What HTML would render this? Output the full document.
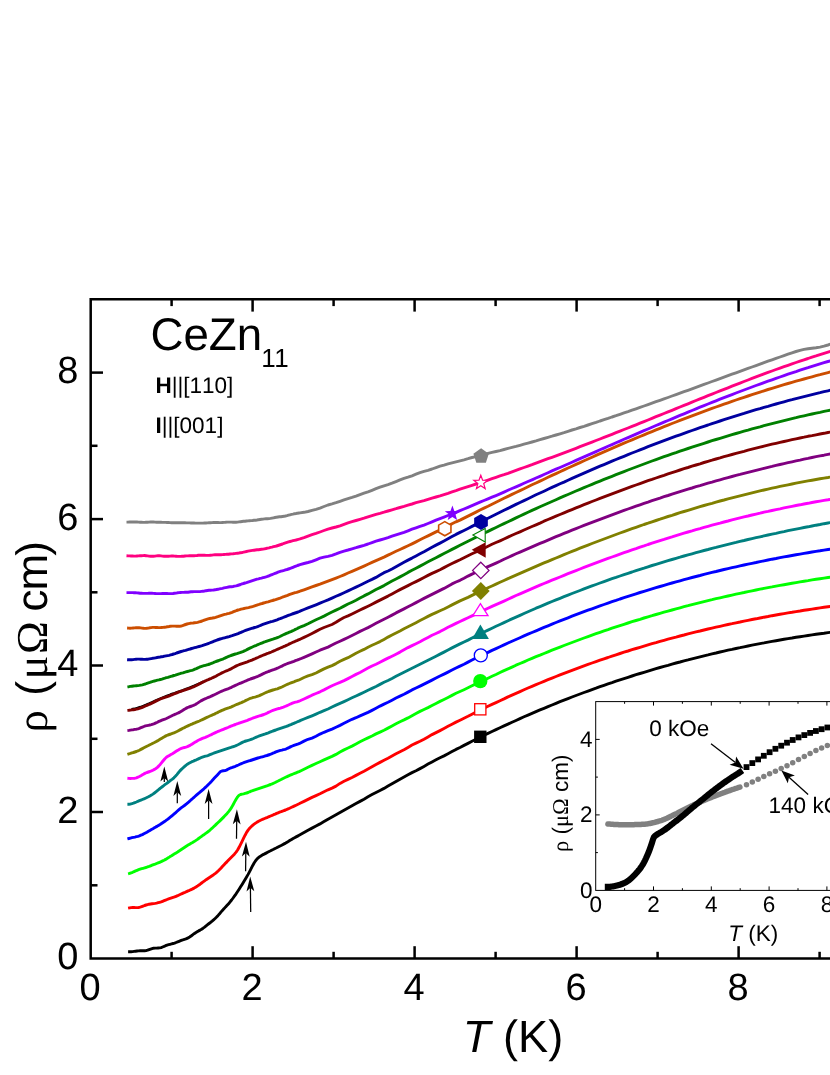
<!DOCTYPE html>
<html lang="en">
<head>
<meta charset="utf-8">
<title>CeZn11 resistivity</title>
<style>
html, body { margin: 0; padding: 0; background: #ffffff; }
body { width: 830px; height: 1075px; overflow: hidden; position: relative;
  font-family: "Liberation Sans", sans-serif; }
svg text { white-space: pre; font-kerning: none; font-feature-settings: "kern" 0, "liga" 0; text-rendering: geometricPrecision; }
</style>
</head>
<body>
<svg width="830" height="1075" viewBox="0 0 830 1075" style="position:absolute;left:0;top:0;display:block;will-change:transform">
<rect x="0" y="0" width="830" height="1075" fill="#ffffff"/>
<g fill="none" stroke-linejoin="round" stroke-linecap="butt">
<path d="M131.5 709.4 L134.5 708.9 L137.5 708.1 L140.5 707.1 L143.5 706.0 L146.5 704.8 L149.5 703.5 L152.5 702.1 L155.5 700.7 L158.5 699.4 L161.5 698.1 L164.5 696.9 L167.5 695.7 L170.5 694.6 L173.5 693.6 L176.5 692.5 L179.5 691.4 L182.5 690.4 L185.5 689.3 L188.5 688.1 L191.5 686.9 L194.5 685.7 L197.5 684.4 L200.5 683.1 L203.5 681.7" stroke="#000" stroke-width="2.6"/>
<path d="M128.1 951.8 L129.6 951.8 L131.1 951.7 L132.6 951.6 L134.1 951.4 L135.6 951.2 L137.1 951.0 L138.6 950.9 L140.1 950.8 L141.6 950.8 L143.1 950.8 L144.6 950.8 L146.1 950.6 L147.6 950.2 L149.1 949.6 L150.6 949.1 L152.1 948.6 L153.6 948.2 L155.1 948.1 L156.6 948.1 L158.1 948.0 L159.6 947.9 L161.1 947.6 L162.6 947.0 L164.1 946.4 L165.6 945.7 L167.1 945.1 L168.6 944.7 L170.1 944.3 L171.6 943.9 L173.1 943.5 L174.6 943.1 L176.1 942.5 L177.6 941.9 L179.1 941.3 L180.6 940.7 L182.1 940.1 L183.6 939.7 L185.1 939.2 L186.6 938.6 L188.1 937.9 L189.6 937.0 L191.1 936.0 L192.6 934.8 L194.1 933.7 L195.6 932.7 L197.1 931.8 L198.6 930.9 L200.1 930.1 L201.6 929.2 L203.1 928.2 L204.6 927.1 L206.1 925.9 L207.6 924.7 L209.1 923.5 L210.6 922.3 L212.1 921.1 L213.6 919.8 L215.1 918.5 L216.6 917.0 L218.1 915.4 L219.6 913.7 L221.1 911.9 L222.6 910.2 L224.1 908.6 L225.6 906.9 L227.1 905.3 L228.6 903.7 L230.1 901.9 L231.6 900.0 L233.1 898.0 L234.6 895.9 L236.1 893.8 L237.6 891.5 L239.1 889.2 L240.6 886.8 L242.1 884.4 L243.6 881.9 L245.1 879.5 L246.6 877.0 L248.1 874.4 L249.6 871.6 L251.1 868.7 L252.6 865.7 L254.1 863.0 L255.6 860.7 L257.1 858.9 L258.6 857.5 L260.1 856.4 L261.6 855.5 L263.1 854.6 L264.6 853.9 L266.1 853.1 L267.6 852.3 L269.1 851.5 L270.6 850.8 L272.1 850.0 L273.6 849.3 L275.1 848.5 L276.6 847.8 L278.1 847.0 L279.6 846.2 L281.1 845.5 L282.6 844.7 L284.1 843.9 L285.6 843.1 L287.1 842.2 L288.6 841.3 L290.1 840.3 L291.6 839.4 L293.1 838.5 L294.6 837.7 L296.1 836.9 L297.6 836.1 L299.1 835.3 L300.0 834.8 L304.0 832.5 L308.0 830.2 L312.0 828.1 L316.0 826.0 L320.0 823.9 L324.0 821.6 L328.0 819.2 L332.0 817.0 L336.0 814.8 L340.0 812.5 L344.0 810.2 L348.0 808.0 L352.0 805.7 L356.0 803.5 L360.0 801.4 L364.0 799.2 L368.0 796.8 L372.0 794.6 L376.0 792.5 L380.0 790.5 L384.0 788.4 L388.0 786.1 L392.0 783.8 L396.0 781.5 L400.0 779.2 L404.0 777.0 L408.0 774.7 L412.0 772.6 L416.0 770.7 L420.0 768.6 L424.0 766.4 L428.0 764.1 L432.0 761.9 L436.0 759.8 L440.0 757.8 L444.0 755.9 L448.0 753.8 L452.0 751.6 L456.0 749.4 L460.0 747.5 L464.0 745.4 L468.0 743.4 L472.0 741.3 L476.0 739.3 L480.0 737.3 L484.0 735.3 L488.0 733.4 L492.0 731.5 L496.0 729.6 L500.0 727.8 L504.0 725.9 L508.0 724.1 L512.0 722.3 L516.0 720.5 L520.0 718.6 L524.0 716.8 L528.0 715.1 L532.0 713.4 L536.0 711.6 L540.0 709.9 L544.0 708.3 L548.0 706.6 L552.0 705.0 L556.0 703.3 L560.0 701.7 L564.0 700.2 L568.0 698.6 L572.0 697.0 L576.0 695.5 L580.0 694.0 L584.0 692.5 L588.0 691.1 L592.0 689.6 L596.0 688.2 L600.0 686.7 L604.0 685.3 L608.0 683.9 L612.0 682.6 L616.0 681.2 L620.0 679.9 L624.0 678.6 L628.0 677.3 L632.0 676.0 L636.0 674.7 L640.0 673.5 L644.0 672.3 L648.0 671.1 L652.0 669.9 L656.0 668.7 L660.0 667.5 L664.0 666.4 L668.0 665.3 L672.0 664.1 L676.0 663.0 L680.0 662.0 L684.0 660.9 L688.0 659.9 L692.0 658.8 L696.0 657.8 L700.0 656.8 L704.0 655.8 L708.0 654.9 L712.0 653.9 L716.0 653.0 L720.0 652.0 L724.0 651.1 L728.0 650.2 L732.0 649.4 L736.0 648.5 L740.0 647.7 L744.0 646.8 L748.0 646.0 L752.0 645.2 L756.0 644.4 L760.0 643.6 L764.0 642.9 L768.0 642.1 L772.0 641.4 L776.0 640.7 L780.0 640.0 L784.0 639.3 L788.0 638.6 L792.0 638.0 L796.0 637.3 L800.0 636.7 L804.0 636.1 L808.0 635.5 L812.0 634.9 L816.0 634.3 L820.0 633.7 L824.0 633.2 L828.0 632.6 L832.0 632.1 L836.0 631.6 L840.0 631.1" stroke="#000000" stroke-width="2.9"/>
<path d="M128.1 908.2 L129.6 907.9 L131.1 907.6 L132.6 907.5 L134.1 907.5 L135.6 907.6 L137.1 907.6 L138.6 907.5 L140.1 907.2 L141.6 906.7 L143.1 906.1 L144.6 905.5 L146.1 905.0 L147.6 904.6 L149.1 904.2 L150.6 904.0 L152.1 903.8 L153.6 903.6 L155.1 903.4 L156.6 903.1 L158.1 902.7 L159.6 902.3 L161.1 901.9 L162.6 901.3 L164.1 900.7 L165.6 900.1 L167.1 899.5 L168.6 898.9 L170.1 898.4 L171.6 897.9 L173.1 897.4 L174.6 896.9 L176.1 896.3 L177.6 895.7 L179.1 895.0 L180.6 894.3 L182.1 893.6 L183.6 892.9 L185.1 892.3 L186.6 891.6 L188.1 890.9 L189.6 890.3 L191.1 889.6 L192.6 888.9 L194.1 888.1 L195.6 887.2 L197.1 886.3 L198.6 885.2 L200.1 884.2 L201.6 883.0 L203.1 881.9 L204.6 880.8 L206.1 879.7 L207.6 878.7 L209.1 877.7 L210.6 876.7 L212.1 875.7 L213.6 874.7 L215.1 873.6 L216.6 872.4 L218.1 871.0 L219.6 869.5 L221.1 868.0 L222.6 866.3 L224.1 864.7 L225.6 863.1 L227.1 861.6 L228.6 860.0 L230.1 858.5 L231.6 857.0 L233.1 855.5 L234.6 853.9 L236.1 852.1 L237.6 850.0 L239.1 847.3 L240.6 844.3 L242.1 841.3 L243.6 838.2 L245.1 835.2 L246.6 832.4 L248.1 830.1 L249.6 828.3 L251.1 826.8 L252.6 825.4 L254.1 824.2 L255.6 823.1 L257.1 822.1 L258.6 821.3 L260.1 820.5 L261.6 819.8 L263.1 819.1 L264.6 818.5 L266.1 817.9 L267.6 817.3 L269.1 816.6 L270.6 816.0 L272.1 815.4 L273.6 814.7 L275.1 814.1 L276.6 813.4 L278.1 812.8 L279.6 812.2 L281.1 811.7 L282.6 811.1 L284.1 810.5 L285.6 810.0 L287.1 809.3 L288.6 808.7 L290.1 808.0 L291.6 807.3 L293.1 806.6 L294.6 805.9 L296.1 805.2 L297.6 804.5 L299.1 803.8 L300.0 803.3 L304.0 801.4 L308.0 799.4 L312.0 797.4 L316.0 795.6 L320.0 793.8 L324.0 791.7 L328.0 789.8 L332.0 788.1 L336.0 786.1 L340.0 783.4 L344.0 781.2 L348.0 779.4 L352.0 777.5 L356.0 775.4 L360.0 773.3 L364.0 771.3 L368.0 769.1 L372.0 766.8 L376.0 764.5 L380.0 762.4 L384.0 760.3 L388.0 758.3 L392.0 756.1 L396.0 753.8 L400.0 751.7 L404.0 749.7 L408.0 747.4 L412.0 745.0 L416.0 743.1 L420.0 741.3 L424.0 739.2 L428.0 736.9 L432.0 734.6 L436.0 732.6 L440.0 730.6 L444.0 728.5 L448.0 726.3 L452.0 724.2 L456.0 722.1 L460.0 720.2 L464.0 718.2 L468.0 716.3 L472.0 714.2 L476.0 712.1 L480.0 710.2 L484.0 708.2 L488.0 706.3 L492.0 704.4 L496.0 702.6 L500.0 700.7 L504.0 698.9 L508.0 696.9 L512.0 695.1 L516.0 693.4 L520.0 691.6 L524.0 689.8 L528.0 688.0 L532.0 686.3 L536.0 684.6 L540.0 683.0 L544.0 681.3 L548.0 679.7 L552.0 678.1 L556.0 676.5 L560.0 674.9 L564.0 673.3 L568.0 671.8 L572.0 670.3 L576.0 668.8 L580.0 667.3 L584.0 665.8 L588.0 664.4 L592.0 663.0 L596.0 661.6 L600.0 660.2 L604.0 658.8 L608.0 657.5 L612.0 656.1 L616.0 654.8 L620.0 653.5 L624.0 652.2 L628.0 651.0 L632.0 649.7 L636.0 648.5 L640.0 647.3 L644.0 646.1 L648.0 644.9 L652.0 643.7 L656.0 642.6 L660.0 641.4 L664.0 640.3 L668.0 639.2 L672.0 638.1 L676.0 637.1 L680.0 636.0 L684.0 635.0 L688.0 633.9 L692.0 632.9 L696.0 631.9 L700.0 631.0 L704.0 630.0 L708.0 629.0 L712.0 628.1 L716.0 627.2 L720.0 626.3 L724.0 625.4 L728.0 624.5 L732.0 623.7 L736.0 622.8 L740.0 622.0 L744.0 621.1 L748.0 620.3 L752.0 619.5 L756.0 618.8 L760.0 618.0 L764.0 617.2 L768.0 616.5 L772.0 615.7 L776.0 615.0 L780.0 614.3 L784.0 613.6 L788.0 612.9 L792.0 612.3 L796.0 611.6 L800.0 611.0 L804.0 610.3 L808.0 609.7 L812.0 609.1 L816.0 608.5 L820.0 607.9 L824.0 607.3 L828.0 606.7 L832.0 606.2 L836.0 605.6 L840.0 605.1" stroke="#ff0000" stroke-width="2.9"/>
<path d="M128.1 873.8 L129.6 873.4 L131.1 872.8 L132.6 872.3 L134.1 871.6 L135.6 870.9 L137.1 870.3 L138.6 869.7 L140.1 869.2 L141.6 868.7 L143.1 868.3 L144.6 867.9 L146.1 867.5 L147.6 866.9 L149.1 866.4 L150.6 865.8 L152.1 865.2 L153.6 864.6 L155.1 864.1 L156.6 863.5 L158.1 862.9 L159.6 862.3 L161.1 861.7 L162.6 860.9 L164.1 860.2 L165.6 859.4 L167.1 858.5 L168.6 857.6 L170.1 856.6 L171.6 855.7 L173.1 854.7 L174.6 853.8 L176.1 852.9 L177.6 852.0 L179.1 851.0 L180.6 850.0 L182.1 849.0 L183.6 848.0 L185.1 847.0 L186.6 846.0 L188.1 845.1 L189.6 844.2 L191.1 843.3 L192.6 842.5 L194.1 841.6 L195.6 840.6 L197.1 839.6 L198.6 838.5 L200.1 837.4 L201.6 836.3 L203.1 835.2 L204.6 834.2 L206.1 833.1 L207.6 832.0 L209.1 830.8 L210.6 829.5 L212.1 828.2 L213.6 826.8 L215.1 825.4 L216.6 823.9 L218.1 822.5 L219.6 821.1 L221.1 819.6 L222.6 818.1 L224.1 816.6 L225.6 815.0 L227.1 813.4 L228.6 811.6 L230.1 809.7 L231.6 807.4 L233.1 804.7 L234.6 801.9 L236.1 799.2 L237.6 796.9 L239.1 795.2 L240.6 794.5 L242.1 794.1 L243.6 793.8 L245.1 793.4 L246.6 793.0 L248.1 792.5 L249.6 791.8 L251.1 791.2 L252.6 790.7 L254.1 790.1 L255.6 789.6 L257.1 789.1 L258.6 788.6 L260.1 788.1 L261.6 787.6 L263.1 787.1 L264.6 786.6 L266.1 786.1 L267.6 785.6 L269.1 785.0 L270.6 784.5 L272.1 783.9 L273.6 783.2 L275.1 782.5 L276.6 781.7 L278.1 781.0 L279.6 780.2 L281.1 779.5 L282.6 778.7 L284.1 778.0 L285.6 777.3 L287.1 776.6 L288.6 775.9 L290.1 775.2 L291.6 774.6 L293.1 774.0 L294.6 773.4 L296.1 772.8 L297.6 772.2 L299.1 771.6 L300.0 771.2 L304.0 769.3 L308.0 767.3 L312.0 765.4 L316.0 763.5 L320.0 761.7 L324.0 759.9 L328.0 758.1 L332.0 756.4 L336.0 754.4 L340.0 752.0 L344.0 749.9 L348.0 748.0 L352.0 746.1 L356.0 744.0 L360.0 741.8 L364.0 739.8 L368.0 737.9 L372.0 736.0 L376.0 733.9 L380.0 732.1 L384.0 730.2 L388.0 728.1 L392.0 725.9 L396.0 723.7 L400.0 721.7 L404.0 719.9 L408.0 717.9 L412.0 715.7 L416.0 713.5 L420.0 711.4 L424.0 709.5 L428.0 707.6 L432.0 705.5 L436.0 703.5 L440.0 701.4 L444.0 699.5 L448.0 697.5 L452.0 695.4 L456.0 693.3 L460.0 691.5 L464.0 689.7 L468.0 687.8 L472.0 685.8 L476.0 683.9 L480.0 682.0 L484.0 680.1 L488.0 678.2 L492.0 676.3 L496.0 674.5 L500.0 672.5 L504.0 670.6 L508.0 668.9 L512.0 667.1 L516.0 665.2 L520.0 663.5 L524.0 661.8 L528.0 660.0 L532.0 658.3 L536.0 656.7 L540.0 655.2 L544.0 653.5 L548.0 651.8 L552.0 650.2 L556.0 648.7 L560.0 647.1 L564.0 645.5 L568.0 644.0 L572.0 642.5 L576.0 641.0 L580.0 639.5 L584.0 638.0 L588.0 636.6 L592.0 635.1 L596.0 633.7 L600.0 632.3 L604.0 630.9 L608.0 629.6 L612.0 628.2 L616.0 626.9 L620.0 625.6 L624.0 624.3 L628.0 623.0 L632.0 621.7 L636.0 620.5 L640.0 619.3 L644.0 618.0 L648.0 616.8 L652.0 615.7 L656.0 614.5 L660.0 613.3 L664.0 612.2 L668.0 611.1 L672.0 610.0 L676.0 608.9 L680.0 607.8 L684.0 606.7 L688.0 605.7 L692.0 604.6 L696.0 603.6 L700.0 602.6 L704.0 601.6 L708.0 600.6 L712.0 599.7 L716.0 598.7 L720.0 597.8 L724.0 596.9 L728.0 596.0 L732.0 595.1 L736.0 594.2 L740.0 593.3 L744.0 592.5 L748.0 591.6 L752.0 590.8 L756.0 590.0 L760.0 589.2 L764.0 588.4 L768.0 587.6 L772.0 586.9 L776.0 586.1 L780.0 585.4 L784.0 584.7 L788.0 584.0 L792.0 583.3 L796.0 582.6 L800.0 581.9 L804.0 581.2 L808.0 580.6 L812.0 579.9 L816.0 579.3 L820.0 578.7 L824.0 578.1 L828.0 577.5 L832.0 576.9 L836.0 576.4 L840.0 575.8" stroke="#00ff00" stroke-width="2.9"/>
<path d="M127.4 838.9 L128.9 838.5 L130.4 838.1 L131.9 837.7 L133.4 837.4 L134.9 837.1 L136.4 836.7 L137.9 836.3 L139.4 835.8 L140.9 835.2 L142.4 834.6 L143.9 833.8 L145.4 833.0 L146.9 832.2 L148.4 831.3 L149.9 830.4 L151.4 829.5 L152.9 828.7 L154.4 827.8 L155.9 826.9 L157.4 826.1 L158.9 825.2 L160.4 824.3 L161.9 823.3 L163.4 822.3 L164.9 821.3 L166.4 820.2 L167.9 819.1 L169.4 817.9 L170.9 816.7 L172.4 815.5 L173.9 814.2 L175.4 812.9 L176.9 811.5 L178.4 810.2 L179.9 808.9 L181.4 807.7 L182.9 806.6 L184.4 805.5 L185.9 804.3 L187.4 803.1 L188.9 801.9 L190.4 800.5 L191.9 799.2 L193.4 797.8 L194.9 796.5 L196.4 795.2 L197.9 793.9 L199.4 792.7 L200.9 791.4 L202.4 790.1 L203.9 788.8 L205.4 787.4 L206.9 786.0 L208.4 784.5 L209.9 783.0 L211.4 781.4 L212.9 779.7 L214.4 778.1 L215.9 776.5 L217.4 774.9 L218.9 773.3 L220.4 771.6 L221.9 771.0 L223.4 770.8 L224.9 770.6 L226.4 770.1 L227.9 769.3 L229.4 768.5 L230.9 767.9 L232.4 767.4 L233.9 766.8 L235.4 766.3 L236.9 765.6 L238.4 765.0 L239.9 764.3 L241.4 763.6 L242.9 763.0 L244.4 762.4 L245.9 761.9 L247.4 761.4 L248.9 760.9 L250.4 760.5 L251.9 760.0 L253.4 759.5 L254.9 759.0 L256.4 758.5 L257.9 758.0 L259.4 757.6 L260.9 757.2 L262.4 756.8 L263.9 756.4 L265.4 755.9 L266.9 755.5 L268.4 755.0 L269.9 754.5 L271.4 753.9 L272.9 753.2 L274.4 752.6 L275.9 751.9 L277.4 751.3 L278.9 750.8 L280.4 750.4 L281.9 750.1 L283.4 749.7 L284.9 749.3 L286.4 748.8 L287.9 748.1 L289.4 747.4 L290.9 746.6 L292.4 746.0 L293.9 745.4 L295.4 744.9 L296.9 744.4 L298.4 743.9 L299.9 743.2 L300.0 743.2 L304.0 741.1 L308.0 739.3 L312.0 738.1 L316.0 736.3 L320.0 734.1 L324.0 732.3 L328.0 730.7 L332.0 729.1 L336.0 727.3 L340.0 725.4 L344.0 723.3 L348.0 721.2 L352.0 719.3 L356.0 717.7 L360.0 715.9 L364.0 714.2 L368.0 712.4 L372.0 710.4 L376.0 708.3 L380.0 706.1 L384.0 704.1 L388.0 702.3 L392.0 700.2 L396.0 698.0 L400.0 696.1 L404.0 694.2 L408.0 692.1 L412.0 689.9 L416.0 688.0 L420.0 686.1 L424.0 684.1 L428.0 682.1 L432.0 680.1 L436.0 678.0 L440.0 676.0 L444.0 674.1 L448.0 672.1 L452.0 670.0 L456.0 668.0 L460.0 666.1 L464.0 664.2 L468.0 662.1 L472.0 660.0 L476.0 658.0 L480.0 656.2 L484.0 654.3 L488.0 652.4 L492.0 650.4 L496.0 648.6 L500.0 646.7 L504.0 644.9 L508.0 643.0 L512.0 641.2 L516.0 639.5 L520.0 637.7 L524.0 635.9 L528.0 634.2 L532.0 632.5 L536.0 630.9 L540.0 629.2 L544.0 627.4 L548.0 625.8 L552.0 624.1 L556.0 622.5 L560.0 620.9 L564.0 619.3 L568.0 617.8 L572.0 616.2 L576.0 614.7 L580.0 613.2 L584.0 611.7 L588.0 610.2 L592.0 608.8 L596.0 607.3 L600.0 605.9 L604.0 604.5 L608.0 603.1 L612.0 601.7 L616.0 600.4 L620.0 599.0 L624.0 597.7 L628.0 596.4 L632.0 595.1 L636.0 593.8 L640.0 592.5 L644.0 591.3 L648.0 590.1 L652.0 588.9 L656.0 587.7 L660.0 586.5 L664.0 585.3 L668.0 584.1 L672.0 583.0 L676.0 581.9 L680.0 580.8 L684.0 579.7 L688.0 578.6 L692.0 577.5 L696.0 576.5 L700.0 575.5 L704.0 574.4 L708.0 573.4 L712.0 572.4 L716.0 571.5 L720.0 570.5 L724.0 569.5 L728.0 568.6 L732.0 567.7 L736.0 566.8 L740.0 565.9 L744.0 565.0 L748.0 564.1 L752.0 563.3 L756.0 562.5 L760.0 561.6 L764.0 560.8 L768.0 560.0 L772.0 559.2 L776.0 558.5 L780.0 557.7 L784.0 556.9 L788.0 556.2 L792.0 555.5 L796.0 554.8 L800.0 554.1 L804.0 553.4 L808.0 552.7 L812.0 552.0 L816.0 551.4 L820.0 550.8 L824.0 550.1 L828.0 549.5 L832.0 548.9 L836.0 548.3 L840.0 547.7" stroke="#0000ff" stroke-width="2.9"/>
<path d="M127.4 804.2 L128.9 804.2 L130.4 804.0 L131.9 803.7 L133.4 803.2 L134.9 802.6 L136.4 802.0 L137.9 801.3 L139.4 800.7 L140.9 800.1 L142.4 799.5 L143.9 798.9 L145.4 798.2 L146.9 797.5 L148.4 796.8 L149.9 796.0 L151.4 795.1 L152.9 794.1 L154.4 793.0 L155.9 791.8 L157.4 790.6 L158.9 789.4 L160.4 788.1 L161.9 787.0 L163.4 785.8 L164.9 784.7 L166.4 783.6 L167.9 782.5 L169.4 781.4 L170.9 780.2 L172.4 779.1 L173.9 777.8 L175.4 776.3 L176.9 774.6 L178.4 772.7 L179.9 770.9 L181.4 769.4 L182.9 768.0 L184.4 766.6 L185.9 765.3 L187.4 764.2 L188.9 763.3 L190.4 762.5 L191.9 761.7 L193.4 761.1 L194.9 760.4 L196.4 759.8 L197.9 759.1 L199.4 758.4 L200.9 757.7 L202.4 757.2 L203.9 756.7 L205.4 756.2 L206.9 755.8 L208.4 755.3 L209.9 754.7 L211.4 754.1 L212.9 753.5 L214.4 752.9 L215.9 752.3 L217.4 751.8 L218.9 751.3 L220.4 750.8 L221.9 750.3 L223.4 749.8 L224.9 749.3 L226.4 748.8 L227.9 748.3 L229.4 747.8 L230.9 747.4 L232.4 746.9 L233.9 746.5 L235.4 745.9 L236.9 745.2 L238.4 744.5 L239.9 743.7 L241.4 742.9 L242.9 742.1 L244.4 741.5 L245.9 741.0 L247.4 740.6 L248.9 740.2 L250.4 739.7 L251.9 739.1 L253.4 738.5 L254.9 737.8 L256.4 737.1 L257.9 736.5 L259.4 735.9 L260.9 735.4 L262.4 734.9 L263.9 734.4 L265.4 733.9 L266.9 733.3 L268.4 732.8 L269.9 732.2 L271.4 731.6 L272.9 731.0 L274.4 730.5 L275.9 730.0 L277.4 729.4 L278.9 728.9 L280.4 728.4 L281.9 727.9 L283.4 727.4 L284.9 726.9 L286.4 726.4 L287.9 725.8 L289.4 725.2 L290.9 724.6 L292.4 723.9 L293.9 723.3 L295.4 722.7 L296.9 722.0 L298.4 721.4 L299.9 720.8 L300.0 720.7 L304.0 719.0 L308.0 717.4 L312.0 715.8 L316.0 714.1 L320.0 712.3 L324.0 710.7 L328.0 709.0 L332.0 707.0 L336.0 705.1 L340.0 703.4 L344.0 701.6 L348.0 699.7 L352.0 697.8 L356.0 696.0 L360.0 694.1 L364.0 692.2 L368.0 690.2 L372.0 688.4 L376.0 686.5 L380.0 684.4 L384.0 682.3 L388.0 680.5 L392.0 678.5 L396.0 676.3 L400.0 674.2 L404.0 672.2 L408.0 670.2 L412.0 668.3 L416.0 666.3 L420.0 664.2 L424.0 662.2 L428.0 660.2 L432.0 658.2 L436.0 656.2 L440.0 654.1 L444.0 652.1 L448.0 650.0 L452.0 647.9 L456.0 645.9 L460.0 643.9 L464.0 642.0 L468.0 640.1 L472.0 638.0 L476.0 636.0 L480.0 633.9 L484.0 632.0 L488.0 630.1 L492.0 628.2 L496.0 626.3 L500.0 624.5 L504.0 622.6 L508.0 620.7 L512.0 618.9 L516.0 617.2 L520.0 615.4 L524.0 613.5 L528.0 611.7 L532.0 610.0 L536.0 608.2 L540.0 606.6 L544.0 604.9 L548.0 603.2 L552.0 601.5 L556.0 599.9 L560.0 598.3 L564.0 596.7 L568.0 595.1 L572.0 593.5 L576.0 592.0 L580.0 590.5 L584.0 588.9 L588.0 587.4 L592.0 585.9 L596.0 584.5 L600.0 583.0 L604.0 581.6 L608.0 580.1 L612.0 578.7 L616.0 577.4 L620.0 576.0 L624.0 574.6 L628.0 573.3 L632.0 572.0 L636.0 570.6 L640.0 569.3 L644.0 568.1 L648.0 566.8 L652.0 565.5 L656.0 564.3 L660.0 563.1 L664.0 561.9 L668.0 560.7 L672.0 559.5 L676.0 558.3 L680.0 557.2 L684.0 556.0 L688.0 554.9 L692.0 553.8 L696.0 552.7 L700.0 551.6 L704.0 550.5 L708.0 549.5 L712.0 548.4 L716.0 547.4 L720.0 546.3 L724.0 545.3 L728.0 544.3 L732.0 543.3 L736.0 542.4 L740.0 541.4 L744.0 540.5 L748.0 539.5 L752.0 538.6 L756.0 537.7 L760.0 536.8 L764.0 535.9 L768.0 535.0 L772.0 534.1 L776.0 533.3 L780.0 532.4 L784.0 531.6 L788.0 530.7 L792.0 529.9 L796.0 529.1 L800.0 528.3 L804.0 527.5 L808.0 526.8 L812.0 526.0 L816.0 525.2 L820.0 524.5 L824.0 523.7 L828.0 523.0 L832.0 522.3 L836.0 521.6 L840.0 520.9" stroke="#008080" stroke-width="2.9"/>
<path d="M127.4 778.3 L128.9 778.4 L130.4 778.5 L131.9 778.4 L133.4 778.4 L134.9 778.2 L136.4 777.8 L137.9 777.2 L139.4 776.5 L140.9 775.7 L142.4 774.8 L143.9 773.9 L145.4 773.1 L146.9 772.5 L148.4 772.0 L149.9 771.5 L151.4 770.9 L152.9 770.2 L154.4 769.4 L155.9 768.5 L157.4 767.4 L158.9 765.9 L160.4 764.2 L161.9 762.3 L163.4 760.5 L164.9 758.7 L166.4 757.3 L167.9 756.3 L169.4 755.4 L170.9 754.5 L172.4 753.7 L173.9 752.8 L175.4 751.8 L176.9 750.8 L178.4 749.9 L179.9 749.0 L181.4 748.4 L182.9 747.9 L184.4 747.5 L185.9 747.1 L187.4 746.6 L188.9 745.9 L190.4 745.1 L191.9 744.2 L193.4 743.2 L194.9 742.3 L196.4 741.4 L197.9 740.5 L199.4 739.8 L200.9 739.1 L202.4 738.4 L203.9 737.8 L205.4 737.3 L206.9 736.7 L208.4 736.0 L209.9 735.3 L211.4 734.6 L212.9 733.8 L214.4 733.1 L215.9 732.4 L217.4 731.7 L218.9 731.1 L220.4 730.5 L221.9 729.9 L223.4 729.3 L224.9 728.7 L226.4 728.1 L227.9 727.5 L229.4 726.8 L230.9 726.2 L232.4 725.6 L233.9 725.0 L235.4 724.5 L236.9 723.9 L238.4 723.4 L239.9 722.8 L241.4 722.3 L242.9 721.8 L244.4 721.3 L245.9 720.8 L247.4 720.3 L248.9 719.7 L250.4 719.1 L251.9 718.5 L253.4 717.9 L254.9 717.4 L256.4 716.8 L257.9 716.3 L259.4 715.9 L260.9 715.5 L262.4 715.0 L263.9 714.5 L265.4 713.9 L266.9 713.2 L268.4 712.4 L269.9 711.7 L271.4 711.0 L272.9 710.4 L274.4 709.9 L275.9 709.4 L277.4 708.9 L278.9 708.5 L280.4 708.1 L281.9 707.6 L283.4 707.1 L284.9 706.5 L286.4 705.9 L287.9 705.2 L289.4 704.5 L290.9 703.8 L292.4 703.2 L293.9 702.6 L295.4 702.2 L296.9 701.8 L298.4 701.3 L299.9 700.8 L300.0 700.8 L304.0 699.0 L308.0 697.1 L312.0 695.2 L316.0 693.5 L320.0 691.8 L324.0 689.9 L328.0 687.8 L332.0 685.8 L336.0 684.0 L340.0 682.4 L344.0 680.6 L348.0 678.6 L352.0 676.5 L356.0 674.4 L360.0 672.5 L364.0 670.3 L368.0 668.1 L372.0 666.0 L376.0 664.2 L380.0 662.2 L384.0 660.1 L388.0 658.1 L392.0 656.2 L396.0 654.2 L400.0 652.1 L404.0 649.8 L408.0 647.6 L412.0 645.6 L416.0 643.7 L420.0 641.8 L424.0 639.6 L428.0 637.4 L432.0 635.3 L436.0 633.5 L440.0 631.6 L444.0 629.4 L448.0 627.3 L452.0 625.4 L456.0 623.4 L460.0 621.5 L464.0 619.6 L468.0 617.8 L472.0 615.9 L476.0 614.0 L480.0 612.0 L484.0 610.1 L488.0 608.3 L492.0 606.4 L496.0 604.6 L500.0 602.9 L504.0 601.1 L508.0 599.3 L512.0 597.4 L516.0 595.5 L520.0 593.8 L524.0 592.1 L528.0 590.4 L532.0 588.7 L536.0 586.9 L540.0 585.2 L544.0 583.5 L548.0 581.8 L552.0 580.2 L556.0 578.6 L560.0 577.0 L564.0 575.3 L568.0 573.7 L572.0 572.1 L576.0 570.6 L580.0 569.0 L584.0 567.4 L588.0 565.9 L592.0 564.4 L596.0 562.9 L600.0 561.4 L604.0 559.9 L608.0 558.4 L612.0 557.0 L616.0 555.6 L620.0 554.1 L624.0 552.7 L628.0 551.3 L632.0 549.9 L636.0 548.6 L640.0 547.2 L644.0 545.9 L648.0 544.5 L652.0 543.2 L656.0 541.9 L660.0 540.6 L664.0 539.4 L668.0 538.1 L672.0 536.9 L676.0 535.6 L680.0 534.4 L684.0 533.2 L688.0 532.0 L692.0 530.9 L696.0 529.7 L700.0 528.6 L704.0 527.4 L708.0 526.3 L712.0 525.2 L716.0 524.1 L720.0 523.1 L724.0 522.0 L728.0 521.0 L732.0 519.9 L736.0 518.9 L740.0 517.9 L744.0 516.9 L748.0 516.0 L752.0 515.0 L756.0 514.1 L760.0 513.2 L764.0 512.2 L768.0 511.4 L772.0 510.5 L776.0 509.6 L780.0 508.8 L784.0 507.9 L788.0 507.1 L792.0 506.3 L796.0 505.5 L800.0 504.8 L804.0 504.0 L808.0 503.3 L812.0 502.5 L816.0 501.8 L820.0 501.1 L824.0 500.4 L828.0 499.8 L832.0 499.1 L836.0 498.5 L840.0 497.9" stroke="#ff00ff" stroke-width="2.9"/>
<path d="M127.4 754.3 L128.9 753.8 L130.4 753.4 L131.9 752.9 L133.4 752.5 L134.9 752.0 L136.4 751.5 L137.9 750.9 L139.4 750.2 L140.9 749.4 L142.4 748.6 L143.9 747.8 L145.4 747.0 L146.9 746.2 L148.4 745.5 L149.9 744.7 L151.4 744.0 L152.9 743.2 L154.4 742.5 L155.9 741.7 L157.4 740.9 L158.9 740.0 L160.4 739.1 L161.9 738.2 L163.4 737.3 L164.9 736.4 L166.4 735.6 L167.9 735.0 L169.4 734.5 L170.9 734.0 L172.4 733.4 L173.9 732.9 L175.4 732.2 L176.9 731.5 L178.4 730.7 L179.9 729.9 L181.4 729.1 L182.9 728.3 L184.4 727.6 L185.9 726.8 L187.4 726.1 L188.9 725.4 L190.4 724.7 L191.9 724.1 L193.4 723.4 L194.9 722.8 L196.4 722.2 L197.9 721.6 L199.4 721.0 L200.9 720.3 L202.4 719.6 L203.9 718.9 L205.4 718.1 L206.9 717.4 L208.4 716.7 L209.9 716.0 L211.4 715.4 L212.9 714.7 L214.4 714.1 L215.9 713.3 L217.4 712.6 L218.9 711.8 L220.4 711.1 L221.9 710.4 L223.4 709.8 L224.9 709.2 L226.4 708.7 L227.9 708.2 L229.4 707.7 L230.9 707.1 L232.4 706.4 L233.9 705.7 L235.4 705.0 L236.9 704.4 L238.4 703.8 L239.9 703.2 L241.4 702.6 L242.9 701.9 L244.4 701.2 L245.9 700.4 L247.4 699.7 L248.9 699.0 L250.4 698.3 L251.9 697.9 L253.4 697.4 L254.9 697.1 L256.4 696.7 L257.9 696.2 L259.4 695.6 L260.9 694.9 L262.4 694.2 L263.9 693.5 L265.4 692.8 L266.9 692.1 L268.4 691.5 L269.9 691.0 L271.4 690.5 L272.9 690.0 L274.4 689.6 L275.9 689.2 L277.4 688.8 L278.9 688.2 L280.4 687.6 L281.9 687.0 L283.4 686.2 L284.9 685.5 L286.4 684.8 L287.9 684.1 L289.4 683.5 L290.9 682.9 L292.4 682.3 L293.9 681.8 L295.4 681.2 L296.9 680.7 L298.4 680.2 L299.9 679.5 L300.0 679.5 L304.0 677.5 L308.0 675.9 L312.0 674.7 L316.0 673.0 L320.0 670.9 L324.0 668.9 L328.0 667.2 L332.0 665.6 L336.0 663.6 L340.0 661.3 L344.0 659.4 L348.0 657.7 L352.0 655.5 L356.0 653.2 L360.0 651.3 L364.0 649.4 L368.0 647.2 L372.0 645.3 L376.0 643.5 L380.0 641.6 L384.0 639.4 L388.0 637.1 L392.0 635.0 L396.0 633.0 L400.0 631.0 L404.0 628.8 L408.0 626.8 L412.0 624.8 L416.0 622.7 L420.0 620.5 L424.0 618.5 L428.0 616.4 L432.0 614.4 L436.0 612.6 L440.0 610.8 L444.0 609.0 L448.0 607.0 L452.0 604.9 L456.0 602.9 L460.0 600.9 L464.0 599.2 L468.0 597.4 L472.0 595.4 L476.0 593.4 L480.0 591.5 L484.0 589.7 L488.0 587.8 L492.0 586.0 L496.0 584.1 L500.0 582.3 L504.0 580.5 L508.0 578.6 L512.0 576.9 L516.0 575.2 L520.0 573.4 L524.0 571.6 L528.0 569.9 L532.0 568.2 L536.0 566.4 L540.0 564.6 L544.0 562.9 L548.0 561.3 L552.0 559.6 L556.0 558.0 L560.0 556.4 L564.0 554.7 L568.0 553.0 L572.0 551.4 L576.0 549.8 L580.0 548.2 L584.0 546.6 L588.0 545.1 L592.0 543.5 L596.0 542.0 L600.0 540.5 L604.0 539.0 L608.0 537.5 L612.0 536.0 L616.0 534.5 L620.0 533.0 L624.0 531.6 L628.0 530.1 L632.0 528.7 L636.0 527.3 L640.0 525.9 L644.0 524.5 L648.0 523.2 L652.0 521.8 L656.0 520.5 L660.0 519.2 L664.0 517.8 L668.0 516.5 L672.0 515.3 L676.0 514.0 L680.0 512.7 L684.0 511.5 L688.0 510.3 L692.0 509.1 L696.0 507.9 L700.0 506.7 L704.0 505.5 L708.0 504.4 L712.0 503.3 L716.0 502.1 L720.0 501.0 L724.0 500.0 L728.0 498.9 L732.0 497.8 L736.0 496.8 L740.0 495.8 L744.0 494.8 L748.0 493.8 L752.0 492.8 L756.0 491.8 L760.0 490.9 L764.0 490.0 L768.0 489.1 L772.0 488.2 L776.0 487.3 L780.0 486.4 L784.0 485.6 L788.0 484.8 L792.0 484.0 L796.0 483.2 L800.0 482.4 L804.0 481.6 L808.0 480.9 L812.0 480.2 L816.0 479.5 L820.0 478.8 L824.0 478.1 L828.0 477.5 L832.0 476.8 L836.0 476.2 L840.0 475.6" stroke="#808000" stroke-width="2.9"/>
<path d="M127.4 730.6 L128.9 730.4 L130.4 730.1 L131.9 729.9 L133.4 729.7 L134.9 729.4 L136.4 729.2 L137.9 728.8 L139.4 728.3 L140.9 727.7 L142.4 727.1 L143.9 726.5 L145.4 725.9 L146.9 725.6 L148.4 725.3 L149.9 725.0 L151.4 724.7 L152.9 724.2 L154.4 723.6 L155.9 722.9 L157.4 722.2 L158.9 721.4 L160.4 720.8 L161.9 720.2 L163.4 719.6 L164.9 719.1 L166.4 718.5 L167.9 717.8 L169.4 717.0 L170.9 716.3 L172.4 715.5 L173.9 714.8 L175.4 714.2 L176.9 713.5 L178.4 712.9 L179.9 712.1 L181.4 711.2 L182.9 710.3 L184.4 709.3 L185.9 708.4 L187.4 707.6 L188.9 707.0 L190.4 706.5 L191.9 706.0 L193.4 705.4 L194.9 704.7 L196.4 703.9 L197.9 702.9 L199.4 701.9 L200.9 700.9 L202.4 700.1 L203.9 699.3 L205.4 698.7 L206.9 698.0 L208.4 697.4 L209.9 696.8 L211.4 696.1 L212.9 695.4 L214.4 694.7 L215.9 694.0 L217.4 693.2 L218.9 692.5 L220.4 691.8 L221.9 691.1 L223.4 690.5 L224.9 689.9 L226.4 689.4 L227.9 688.9 L229.4 688.2 L230.9 687.6 L232.4 686.8 L233.9 686.1 L235.4 685.4 L236.9 684.7 L238.4 684.0 L239.9 683.4 L241.4 682.8 L242.9 682.2 L244.4 681.5 L245.9 680.9 L247.4 680.2 L248.9 679.6 L250.4 679.0 L251.9 678.5 L253.4 678.0 L254.9 677.5 L256.4 676.9 L257.9 676.3 L259.4 675.6 L260.9 674.9 L262.4 674.1 L263.9 673.4 L265.4 672.7 L266.9 672.1 L268.4 671.5 L269.9 671.0 L271.4 670.4 L272.9 669.9 L274.4 669.4 L275.9 668.8 L277.4 668.2 L278.9 667.5 L280.4 666.8 L281.9 666.1 L283.4 665.3 L284.9 664.6 L286.4 664.0 L287.9 663.4 L289.4 662.9 L290.9 662.4 L292.4 661.8 L293.9 661.3 L295.4 660.7 L296.9 660.2 L298.4 659.6 L299.9 659.0 L300.0 659.0 L304.0 657.4 L308.0 655.7 L312.0 653.9 L316.0 652.0 L320.0 650.2 L324.0 648.7 L328.0 647.1 L332.0 645.0 L336.0 643.0 L340.0 641.2 L344.0 639.4 L348.0 637.5 L352.0 635.5 L356.0 633.5 L360.0 631.4 L364.0 629.5 L368.0 627.6 L372.0 625.5 L376.0 623.3 L380.0 621.2 L384.0 619.2 L388.0 617.2 L392.0 615.1 L396.0 612.9 L400.0 610.9 L404.0 608.9 L408.0 606.8 L412.0 604.7 L416.0 602.6 L420.0 600.5 L424.0 598.4 L428.0 596.4 L432.0 594.4 L436.0 592.4 L440.0 590.4 L444.0 588.4 L448.0 586.2 L452.0 583.9 L456.0 582.0 L460.0 580.3 L464.0 578.3 L468.0 576.1 L472.0 574.1 L476.0 572.3 L480.0 570.5 L484.0 568.6 L488.0 566.6 L492.0 564.9 L496.0 563.1 L500.0 561.3 L504.0 559.3 L508.0 557.5 L512.0 555.6 L516.0 553.8 L520.0 552.1 L524.0 550.4 L528.0 548.7 L532.0 546.9 L536.0 545.1 L540.0 543.4 L544.0 541.8 L548.0 540.1 L552.0 538.4 L556.0 536.7 L560.0 535.1 L564.0 533.4 L568.0 531.8 L572.0 530.2 L576.0 528.6 L580.0 527.0 L584.0 525.4 L588.0 523.8 L592.0 522.3 L596.0 520.8 L600.0 519.3 L604.0 517.8 L608.0 516.3 L612.0 514.8 L616.0 513.3 L620.0 511.9 L624.0 510.4 L628.0 509.0 L632.0 507.6 L636.0 506.2 L640.0 504.8 L644.0 503.4 L648.0 502.1 L652.0 500.7 L656.0 499.4 L660.0 498.1 L664.0 496.7 L668.0 495.5 L672.0 494.2 L676.0 492.9 L680.0 491.6 L684.0 490.4 L688.0 489.2 L692.0 488.0 L696.0 486.7 L700.0 485.6 L704.0 484.4 L708.0 483.2 L712.0 482.1 L716.0 480.9 L720.0 479.8 L724.0 478.7 L728.0 477.6 L732.0 476.5 L736.0 475.4 L740.0 474.4 L744.0 473.3 L748.0 472.3 L752.0 471.3 L756.0 470.3 L760.0 469.3 L764.0 468.3 L768.0 467.3 L772.0 466.4 L776.0 465.4 L780.0 464.5 L784.0 463.6 L788.0 462.7 L792.0 461.8 L796.0 460.9 L800.0 460.1 L804.0 459.2 L808.0 458.4 L812.0 457.5 L816.0 456.7 L820.0 455.9 L824.0 455.2 L828.0 454.4 L832.0 453.6 L836.0 452.9 L840.0 452.1" stroke="#800080" stroke-width="2.9"/>
<path d="M127.4 710.4 L128.9 710.3 L130.4 710.1 L131.9 709.9 L133.4 709.7 L134.9 709.5 L136.4 709.2 L137.9 708.8 L139.4 708.4 L140.9 707.9 L142.4 707.3 L143.9 706.7 L145.4 706.0 L146.9 705.4 L148.4 704.7 L149.9 704.1 L151.4 703.4 L152.9 702.7 L154.4 701.9 L155.9 701.1 L157.4 700.4 L158.9 699.7 L160.4 699.0 L161.9 698.4 L163.4 697.9 L164.9 697.4 L166.4 696.9 L167.9 696.3 L169.4 695.8 L170.9 695.2 L172.4 694.6 L173.9 694.0 L175.4 693.4 L176.9 692.8 L178.4 692.2 L179.9 691.7 L181.4 691.1 L182.9 690.6 L184.4 690.1 L185.9 689.6 L187.4 689.1 L188.9 688.6 L190.4 688.1 L191.9 687.5 L193.4 686.9 L194.9 686.2 L196.4 685.5 L197.9 684.7 L199.4 683.9 L200.9 683.1 L202.4 682.3 L203.9 681.6 L205.4 680.9 L206.9 680.2 L208.4 679.6 L209.9 678.9 L211.4 678.3 L212.9 677.6 L214.4 676.9 L215.9 676.2 L217.4 675.3 L218.9 674.5 L220.4 673.7 L221.9 672.9 L223.4 672.2 L224.9 671.5 L226.4 670.9 L227.9 670.3 L229.4 669.6 L230.9 668.9 L232.4 668.0 L233.9 667.2 L235.4 666.4 L236.9 665.6 L238.4 665.0 L239.9 664.4 L241.4 663.8 L242.9 663.3 L244.4 662.8 L245.9 662.3 L247.4 661.8 L248.9 661.2 L250.4 660.7 L251.9 660.1 L253.4 659.4 L254.9 658.8 L256.4 658.1 L257.9 657.5 L259.4 656.8 L260.9 656.1 L262.4 655.5 L263.9 654.9 L265.4 654.3 L266.9 653.7 L268.4 653.2 L269.9 652.6 L271.4 652.0 L272.9 651.3 L274.4 650.7 L275.9 650.0 L277.4 649.3 L278.9 648.7 L280.4 648.0 L281.9 647.4 L283.4 646.7 L284.9 646.1 L286.4 645.4 L287.9 644.7 L289.4 643.9 L290.9 643.2 L292.4 642.5 L293.9 641.9 L295.4 641.2 L296.9 640.6 L298.4 639.9 L299.9 639.3 L300.0 639.2 L304.0 637.4 L308.0 635.5 L312.0 633.5 L316.0 631.4 L320.0 629.3 L324.0 627.5 L328.0 626.0 L332.0 624.5 L336.0 622.3 L340.0 619.7 L344.0 617.5 L348.0 615.9 L352.0 614.0 L356.0 612.0 L360.0 610.0 L364.0 608.1 L368.0 606.2 L372.0 604.2 L376.0 602.1 L380.0 600.1 L384.0 598.1 L388.0 596.1 L392.0 593.9 L396.0 591.7 L400.0 589.6 L404.0 587.6 L408.0 585.6 L412.0 583.5 L416.0 581.6 L420.0 579.6 L424.0 577.5 L428.0 575.4 L432.0 573.4 L436.0 571.6 L440.0 569.7 L444.0 567.6 L448.0 565.5 L452.0 563.5 L456.0 561.6 L460.0 559.8 L464.0 557.7 L468.0 555.7 L472.0 553.8 L476.0 552.0 L480.0 550.1 L484.0 548.2 L488.0 546.2 L492.0 544.3 L496.0 542.5 L500.0 540.8 L504.0 539.0 L508.0 537.1 L512.0 535.3 L516.0 533.5 L520.0 531.8 L524.0 530.0 L528.0 528.2 L532.0 526.5 L536.0 524.8 L540.0 523.1 L544.0 521.2 L548.0 519.5 L552.0 517.8 L556.0 516.2 L560.0 514.5 L564.0 512.9 L568.0 511.2 L572.0 509.6 L576.0 507.9 L580.0 506.3 L584.0 504.7 L588.0 503.1 L592.0 501.5 L596.0 500.0 L600.0 498.4 L604.0 496.9 L608.0 495.3 L612.0 493.8 L616.0 492.3 L620.0 490.8 L624.0 489.3 L628.0 487.9 L632.0 486.4 L636.0 485.0 L640.0 483.6 L644.0 482.1 L648.0 480.7 L652.0 479.4 L656.0 478.0 L660.0 476.6 L664.0 475.3 L668.0 473.9 L672.0 472.6 L676.0 471.3 L680.0 470.0 L684.0 468.7 L688.0 467.5 L692.0 466.2 L696.0 465.0 L700.0 463.8 L704.0 462.5 L708.0 461.3 L712.0 460.2 L716.0 459.0 L720.0 457.9 L724.0 456.7 L728.0 455.6 L732.0 454.5 L736.0 453.4 L740.0 452.3 L744.0 451.3 L748.0 450.2 L752.0 449.2 L756.0 448.2 L760.0 447.2 L764.0 446.2 L768.0 445.2 L772.0 444.2 L776.0 443.3 L780.0 442.4 L784.0 441.5 L788.0 440.6 L792.0 439.7 L796.0 438.8 L800.0 438.0 L804.0 437.2 L808.0 436.3 L812.0 435.6 L816.0 434.8 L820.0 434.0 L824.0 433.3 L828.0 432.5 L832.0 431.8 L836.0 431.1 L840.0 430.4" stroke="#800000" stroke-width="2.9"/>
<path d="M127.4 686.9 L128.9 686.7 L130.4 686.4 L131.9 686.2 L133.4 686.0 L134.9 685.9 L136.4 685.7 L137.9 685.6 L139.4 685.4 L140.9 685.1 L142.4 684.8 L143.9 684.4 L145.4 684.0 L146.9 683.4 L148.4 682.9 L149.9 682.4 L151.4 681.8 L152.9 681.4 L154.4 681.0 L155.9 680.6 L157.4 680.2 L158.9 679.9 L160.4 679.5 L161.9 679.1 L163.4 678.6 L164.9 678.2 L166.4 677.7 L167.9 677.3 L169.4 676.8 L170.9 676.4 L172.4 676.0 L173.9 675.5 L175.4 675.1 L176.9 674.6 L178.4 674.1 L179.9 673.7 L181.4 673.2 L182.9 672.8 L184.4 672.3 L185.9 671.9 L187.4 671.5 L188.9 671.1 L190.4 670.7 L191.9 670.3 L193.4 669.8 L194.9 669.2 L196.4 668.6 L197.9 667.9 L199.4 667.2 L200.9 666.6 L202.4 666.1 L203.9 665.7 L205.4 665.3 L206.9 664.9 L208.4 664.5 L209.9 664.0 L211.4 663.4 L212.9 662.8 L214.4 662.1 L215.9 661.5 L217.4 661.0 L218.9 660.5 L220.4 659.9 L221.9 659.4 L223.4 658.8 L224.9 658.1 L226.4 657.4 L227.9 656.7 L229.4 656.1 L230.9 655.5 L232.4 655.0 L233.9 654.5 L235.4 654.0 L236.9 653.6 L238.4 653.1 L239.9 652.7 L241.4 652.1 L242.9 651.6 L244.4 650.9 L245.9 650.2 L247.4 649.4 L248.9 648.6 L250.4 647.9 L251.9 647.2 L253.4 646.5 L254.9 645.9 L256.4 645.3 L257.9 644.6 L259.4 644.0 L260.9 643.4 L262.4 642.8 L263.9 642.2 L265.4 641.7 L266.9 641.1 L268.4 640.6 L269.9 640.1 L271.4 639.6 L272.9 639.2 L274.4 638.7 L275.9 638.2 L277.4 637.6 L278.9 637.0 L280.4 636.3 L281.9 635.5 L283.4 634.8 L284.9 634.1 L286.4 633.4 L287.9 632.8 L289.4 632.2 L290.9 631.6 L292.4 630.9 L293.9 630.2 L295.4 629.4 L296.9 628.7 L298.4 627.9 L299.9 627.2 L300.0 627.2 L304.0 625.6 L308.0 623.8 L312.0 621.7 L316.0 619.8 L320.0 618.0 L324.0 616.1 L328.0 614.0 L332.0 612.0 L336.0 610.1 L340.0 608.2 L344.0 606.1 L348.0 604.0 L352.0 602.2 L356.0 600.3 L360.0 598.1 L364.0 595.9 L368.0 593.9 L372.0 591.7 L376.0 589.5 L380.0 587.6 L384.0 585.6 L388.0 583.2 L392.0 581.0 L396.0 579.0 L400.0 576.9 L404.0 574.7 L408.0 572.4 L412.0 570.3 L416.0 568.2 L420.0 566.1 L424.0 563.9 L428.0 561.8 L432.0 559.8 L436.0 557.7 L440.0 555.6 L444.0 553.5 L448.0 551.5 L452.0 549.4 L456.0 547.4 L460.0 545.3 L464.0 543.2 L468.0 541.2 L472.0 539.3 L476.0 537.2 L480.0 535.2 L484.0 533.3 L488.0 531.4 L492.0 529.4 L496.0 527.5 L500.0 525.5 L504.0 523.6 L508.0 521.8 L512.0 519.9 L516.0 517.9 L520.0 516.0 L524.0 514.1 L528.0 512.3 L532.0 510.4 L536.0 508.6 L540.0 506.8 L544.0 505.0 L548.0 503.2 L552.0 501.5 L556.0 499.7 L560.0 497.9 L564.0 496.2 L568.0 494.5 L572.0 492.7 L576.0 491.0 L580.0 489.4 L584.0 487.7 L588.0 486.0 L592.0 484.3 L596.0 482.7 L600.0 481.1 L604.0 479.4 L608.0 477.8 L612.0 476.3 L616.0 474.7 L620.0 473.1 L624.0 471.6 L628.0 470.0 L632.0 468.5 L636.0 467.0 L640.0 465.5 L644.0 464.0 L648.0 462.5 L652.0 461.0 L656.0 459.6 L660.0 458.2 L664.0 456.7 L668.0 455.3 L672.0 453.9 L676.0 452.6 L680.0 451.2 L684.0 449.8 L688.0 448.5 L692.0 447.2 L696.0 445.9 L700.0 444.6 L704.0 443.3 L708.0 442.0 L712.0 440.7 L716.0 439.5 L720.0 438.3 L724.0 437.1 L728.0 435.9 L732.0 434.7 L736.0 433.5 L740.0 432.3 L744.0 431.2 L748.0 430.1 L752.0 428.9 L756.0 427.8 L760.0 426.8 L764.0 425.7 L768.0 424.6 L772.0 423.6 L776.0 422.6 L780.0 421.6 L784.0 420.6 L788.0 419.6 L792.0 418.6 L796.0 417.7 L800.0 416.7 L804.0 415.8 L808.0 414.9 L812.0 414.0 L816.0 413.1 L820.0 412.3 L824.0 411.4 L828.0 410.6 L832.0 409.8 L836.0 409.0 L840.0 408.2" stroke="#008000" stroke-width="2.9"/>
<path d="M127.1 659.7 L128.6 659.8 L130.1 659.8 L131.6 659.8 L133.1 659.6 L134.6 659.4 L136.1 659.2 L137.6 659.1 L139.1 659.1 L140.6 659.2 L142.1 659.3 L143.6 659.4 L145.1 659.4 L146.6 659.3 L148.1 659.2 L149.6 658.9 L151.1 658.6 L152.6 658.3 L154.1 658.1 L155.6 657.8 L157.1 657.5 L158.6 657.2 L160.1 657.0 L161.6 656.7 L163.1 656.5 L164.6 656.2 L166.1 655.9 L167.6 655.6 L169.1 655.3 L170.6 654.9 L172.1 654.5 L173.6 654.0 L175.1 653.6 L176.6 653.0 L178.1 652.5 L179.6 652.0 L181.1 651.5 L182.6 651.1 L184.1 650.7 L185.6 650.3 L187.1 649.8 L188.6 649.4 L190.1 649.0 L191.6 648.5 L193.1 648.1 L194.6 647.7 L196.1 647.3 L197.6 646.9 L199.1 646.5 L200.6 646.1 L202.1 645.7 L203.6 645.2 L205.1 644.7 L206.6 644.2 L208.1 643.6 L209.6 643.0 L211.1 642.4 L212.6 641.8 L214.1 641.2 L215.6 640.6 L217.1 640.0 L218.6 639.5 L220.1 639.0 L221.6 638.6 L223.1 638.2 L224.6 637.8 L226.1 637.4 L227.6 637.0 L229.1 636.6 L230.6 636.1 L232.1 635.7 L233.6 635.2 L235.1 634.7 L236.6 634.2 L238.1 633.6 L239.6 632.9 L241.1 632.3 L242.6 631.7 L244.1 631.0 L245.6 630.4 L247.1 629.8 L248.6 629.3 L250.1 628.8 L251.6 628.4 L253.1 628.0 L254.6 627.5 L256.1 627.1 L257.6 626.6 L259.1 626.0 L260.6 625.4 L262.1 624.7 L263.6 624.1 L265.1 623.6 L266.6 623.1 L268.1 622.6 L269.6 622.2 L271.1 621.7 L272.6 621.3 L274.1 620.8 L275.6 620.3 L277.1 619.8 L278.6 619.2 L280.1 618.7 L281.6 618.1 L283.1 617.5 L284.6 616.9 L286.1 616.3 L287.6 615.7 L289.1 615.1 L290.6 614.6 L292.1 614.0 L293.6 613.5 L295.1 613.0 L296.6 612.5 L298.1 612.0 L299.6 611.4 L300.0 611.2 L304.0 609.5 L308.0 607.9 L312.0 606.4 L316.0 604.8 L320.0 603.1 L324.0 601.5 L328.0 599.9 L332.0 598.1 L336.0 596.3 L340.0 594.6 L344.0 592.8 L348.0 590.9 L352.0 589.0 L356.0 587.1 L360.0 585.2 L364.0 583.2 L368.0 581.2 L372.0 579.4 L376.0 577.4 L380.0 575.0 L384.0 572.7 L388.0 571.0 L392.0 569.0 L396.0 566.7 L400.0 564.4 L404.0 562.2 L408.0 560.1 L412.0 558.1 L416.0 555.9 L420.0 553.8 L424.0 551.8 L428.0 549.5 L432.0 547.2 L436.0 545.1 L440.0 543.1 L444.0 541.0 L448.0 538.8 L452.0 536.6 L456.0 534.4 L460.0 532.4 L464.0 530.5 L468.0 528.5 L472.0 526.4 L476.0 524.4 L480.0 522.4 L484.0 520.3 L488.0 518.3 L492.0 516.3 L496.0 514.3 L500.0 512.3 L504.0 510.3 L508.0 508.4 L512.0 506.4 L516.0 504.4 L520.0 502.5 L524.0 500.6 L528.0 498.7 L532.0 496.8 L536.0 494.8 L540.0 493.0 L544.0 491.2 L548.0 489.3 L552.0 487.4 L556.0 485.6 L560.0 483.8 L564.0 482.1 L568.0 480.2 L572.0 478.4 L576.0 476.6 L580.0 474.9 L584.0 473.1 L588.0 471.4 L592.0 469.7 L596.0 467.9 L600.0 466.2 L604.0 464.6 L608.0 462.9 L612.0 461.2 L616.0 459.5 L620.0 457.9 L624.0 456.3 L628.0 454.7 L632.0 453.0 L636.0 451.5 L640.0 449.9 L644.0 448.3 L648.0 446.7 L652.0 445.2 L656.0 443.7 L660.0 442.2 L664.0 440.7 L668.0 439.2 L672.0 437.7 L676.0 436.2 L680.0 434.8 L684.0 433.3 L688.0 431.9 L692.0 430.5 L696.0 429.1 L700.0 427.7 L704.0 426.3 L708.0 425.0 L712.0 423.6 L716.0 422.3 L720.0 421.0 L724.0 419.7 L728.0 418.4 L732.0 417.1 L736.0 415.8 L740.0 414.6 L744.0 413.4 L748.0 412.1 L752.0 410.9 L756.0 409.7 L760.0 408.6 L764.0 407.4 L768.0 406.3 L772.0 405.1 L776.0 404.0 L780.0 402.9 L784.0 401.8 L788.0 400.7 L792.0 399.7 L796.0 398.6 L800.0 397.6 L804.0 396.6 L808.0 395.6 L812.0 394.6 L816.0 393.6 L820.0 392.7 L824.0 391.7 L828.0 390.8 L832.0 389.9 L836.0 389.0 L840.0 388.1" stroke="#0000a0" stroke-width="2.9"/>
<path d="M127.1 628.0 L128.6 628.1 L130.1 628.2 L131.6 628.1 L133.1 628.0 L134.6 627.9 L136.1 627.7 L137.6 627.7 L139.1 627.7 L140.6 627.9 L142.1 628.1 L143.6 628.3 L145.1 628.4 L146.6 628.3 L148.1 628.1 L149.6 627.8 L151.1 627.6 L152.6 627.4 L154.1 627.4 L155.6 627.5 L157.1 627.5 L158.6 627.6 L160.1 627.6 L161.6 627.5 L163.1 627.4 L164.6 627.2 L166.1 627.0 L167.6 626.7 L169.1 626.5 L170.6 626.2 L172.1 626.1 L173.6 626.1 L175.1 626.1 L176.6 626.3 L178.1 626.3 L179.6 626.3 L181.1 626.0 L182.6 625.6 L184.1 625.0 L185.6 624.5 L187.1 624.0 L188.6 623.6 L190.1 623.3 L191.6 623.1 L193.1 623.0 L194.6 622.8 L196.1 622.6 L197.6 622.3 L199.1 621.9 L200.6 621.5 L202.1 621.0 L203.6 620.4 L205.1 619.8 L206.6 619.3 L208.1 618.8 L209.6 618.5 L211.1 618.3 L212.6 618.0 L214.1 617.8 L215.6 617.4 L217.1 616.9 L218.6 616.4 L220.1 615.8 L221.6 615.3 L223.1 614.8 L224.6 614.4 L226.1 614.1 L227.6 613.7 L229.1 613.3 L230.6 612.8 L232.1 612.3 L233.6 611.7 L235.1 611.1 L236.6 610.5 L238.1 610.0 L239.6 609.6 L241.1 609.1 L242.6 608.8 L244.1 608.5 L245.6 608.2 L247.1 607.9 L248.6 607.6 L250.1 607.2 L251.6 606.8 L253.1 606.4 L254.6 605.9 L256.1 605.3 L257.6 604.8 L259.1 604.4 L260.6 603.9 L262.1 603.5 L263.6 603.0 L265.1 602.6 L266.6 602.2 L268.1 601.8 L269.6 601.3 L271.1 600.9 L272.6 600.5 L274.1 600.0 L275.6 599.6 L277.1 599.1 L278.6 598.6 L280.1 598.1 L281.6 597.5 L283.1 596.9 L284.6 596.4 L286.1 595.8 L287.6 595.3 L289.1 594.7 L290.6 594.2 L292.1 593.7 L293.6 593.2 L295.1 592.7 L296.6 592.3 L298.1 591.8 L299.6 591.3 L300.0 591.2 L304.0 589.8 L308.0 588.3 L312.0 586.8 L316.0 585.5 L320.0 584.2 L324.0 582.7 L328.0 581.2 L332.0 579.6 L336.0 578.1 L340.0 576.5 L344.0 574.8 L348.0 573.0 L352.0 571.3 L356.0 569.6 L360.0 567.9 L364.0 566.1 L368.0 564.2 L372.0 562.4 L376.0 560.6 L380.0 558.9 L384.0 557.1 L388.0 555.1 L392.0 553.2 L396.0 551.3 L400.0 549.5 L404.0 547.6 L408.0 545.8 L412.0 543.9 L416.0 541.9 L420.0 539.8 L424.0 537.8 L428.0 535.9 L432.0 533.9 L436.0 531.9 L440.0 530.0 L444.0 528.3 L448.0 526.1 L452.0 523.7 L456.0 521.8 L460.0 520.1 L464.0 518.1 L468.0 516.1 L472.0 514.1 L476.0 512.1 L480.0 510.0 L484.0 508.1 L488.0 506.3 L492.0 504.3 L496.0 502.3 L500.0 500.3 L504.0 498.3 L508.0 496.4 L512.0 494.4 L516.0 492.5 L520.0 490.6 L524.0 488.7 L528.0 486.7 L532.0 484.8 L536.0 483.0 L540.0 481.1 L544.0 479.2 L548.0 477.3 L552.0 475.4 L556.0 473.6 L560.0 471.7 L564.0 469.9 L568.0 468.0 L572.0 466.2 L576.0 464.4 L580.0 462.6 L584.0 460.8 L588.0 459.0 L592.0 457.2 L596.0 455.4 L600.0 453.6 L604.0 451.9 L608.0 450.1 L612.0 448.4 L616.0 446.7 L620.0 444.9 L624.0 443.2 L628.0 441.5 L632.0 439.8 L636.0 438.2 L640.0 436.5 L644.0 434.8 L648.0 433.2 L652.0 431.6 L656.0 429.9 L660.0 428.3 L664.0 426.7 L668.0 425.1 L672.0 423.5 L676.0 422.0 L680.0 420.4 L684.0 418.9 L688.0 417.4 L692.0 415.8 L696.0 414.3 L700.0 412.8 L704.0 411.4 L708.0 409.9 L712.0 408.4 L716.0 407.0 L720.0 405.6 L724.0 404.2 L728.0 402.8 L732.0 401.4 L736.0 400.0 L740.0 398.6 L744.0 397.3 L748.0 396.0 L752.0 394.7 L756.0 393.4 L760.0 392.1 L764.0 390.8 L768.0 389.5 L772.0 388.3 L776.0 387.1 L780.0 385.9 L784.0 384.7 L788.0 383.5 L792.0 382.3 L796.0 381.2 L800.0 380.1 L804.0 379.0 L808.0 377.9 L812.0 376.8 L816.0 375.7 L820.0 374.7 L824.0 373.6 L828.0 372.6 L832.0 371.6 L836.0 370.7 L840.0 369.7" stroke="#cc4e00" stroke-width="2.9"/>
<path d="M126.5 592.6 L128.0 592.6 L129.5 592.6 L131.0 592.6 L132.5 592.6 L134.0 592.7 L135.5 592.8 L137.0 592.9 L138.5 593.0 L140.0 593.2 L141.5 593.3 L143.0 593.4 L144.5 593.4 L146.0 593.4 L147.5 593.4 L149.0 593.3 L150.5 593.3 L152.0 593.3 L153.5 593.4 L155.0 593.5 L156.5 593.6 L158.0 593.6 L159.5 593.6 L161.0 593.6 L162.5 593.5 L164.0 593.5 L165.5 593.5 L167.0 593.5 L168.5 593.6 L170.0 593.6 L171.5 593.6 L173.0 593.5 L174.5 593.3 L176.0 593.1 L177.5 592.8 L179.0 592.6 L180.5 592.5 L182.0 592.4 L183.5 592.4 L185.0 592.3 L186.5 592.3 L188.0 592.2 L189.5 592.0 L191.0 591.8 L192.5 591.7 L194.0 591.6 L195.5 591.6 L197.0 591.6 L198.5 591.6 L200.0 591.6 L201.5 591.4 L203.0 591.2 L204.5 591.0 L206.0 590.7 L207.5 590.5 L209.0 590.3 L210.5 590.2 L212.0 590.1 L213.5 590.0 L215.0 589.8 L216.5 589.5 L218.0 589.3 L219.5 588.9 L221.0 588.6 L222.5 588.3 L224.0 587.9 L225.5 587.6 L227.0 587.3 L228.5 587.0 L230.0 586.8 L231.5 586.7 L233.0 586.5 L234.5 586.2 L236.0 585.9 L237.5 585.5 L239.0 585.0 L240.5 584.5 L242.0 583.9 L243.5 583.5 L245.0 583.0 L246.5 582.6 L248.0 582.1 L249.5 581.6 L251.0 581.1 L252.5 580.6 L254.0 580.1 L255.5 579.6 L257.0 579.1 L258.5 578.8 L260.0 578.4 L261.5 578.1 L263.0 577.7 L264.5 577.3 L266.0 576.9 L267.5 576.4 L269.0 575.8 L270.5 575.2 L272.0 574.6 L273.5 574.0 L275.0 573.4 L276.5 572.8 L278.0 572.2 L279.5 571.7 L281.0 571.2 L282.5 570.8 L284.0 570.4 L285.5 569.9 L287.0 569.5 L288.5 569.0 L290.0 568.5 L291.5 567.9 L293.0 567.3 L294.5 566.7 L296.0 566.1 L297.5 565.5 L299.0 565.0 L300.0 564.6 L304.0 563.5 L308.0 562.5 L312.0 561.4 L316.0 559.8 L320.0 558.2 L324.0 557.2 L328.0 556.3 L332.0 555.3 L336.0 553.9 L340.0 552.4 L344.0 551.1 L348.0 550.0 L352.0 548.8 L356.0 547.7 L360.0 546.5 L364.0 545.3 L368.0 544.0 L372.0 542.6 L376.0 541.2 L380.0 540.0 L384.0 538.8 L388.0 537.6 L392.0 536.2 L396.0 534.9 L400.0 533.6 L404.0 532.3 L408.0 530.8 L412.0 529.2 L416.0 527.8 L420.0 526.4 L424.0 525.1 L428.0 523.5 L432.0 521.8 L436.0 520.1 L440.0 518.6 L444.0 517.1 L448.0 515.5 L452.0 513.8 L456.0 512.3 L460.0 510.7 L464.0 509.0 L468.0 507.3 L472.0 505.6 L476.0 503.9 L480.0 502.2 L484.0 500.5 L488.0 498.8 L492.0 497.2 L496.0 495.6 L500.0 493.9 L504.0 492.1 L508.0 490.3 L512.0 488.5 L516.0 486.8 L520.0 485.1 L524.0 483.3 L528.0 481.5 L532.0 479.8 L536.0 478.0 L540.0 476.3 L544.0 474.5 L548.0 472.7 L552.0 470.9 L556.0 469.2 L560.0 467.5 L564.0 465.7 L568.0 464.0 L572.0 462.2 L576.0 460.4 L580.0 458.6 L584.0 456.9 L588.0 455.1 L592.0 453.4 L596.0 451.6 L600.0 449.8 L604.0 448.1 L608.0 446.3 L612.0 444.6 L616.0 442.8 L620.0 441.1 L624.0 439.3 L628.0 437.6 L632.0 435.9 L636.0 434.1 L640.0 432.4 L644.0 430.7 L648.0 429.0 L652.0 427.2 L656.0 425.5 L660.0 423.8 L664.0 422.1 L668.0 420.5 L672.0 418.8 L676.0 417.1 L680.0 415.4 L684.0 413.8 L688.0 412.1 L692.0 410.5 L696.0 408.8 L700.0 407.2 L704.0 405.6 L708.0 404.0 L712.0 402.4 L716.0 400.8 L720.0 399.2 L724.0 397.7 L728.0 396.1 L732.0 394.6 L736.0 393.0 L740.0 391.5 L744.0 390.0 L748.0 388.5 L752.0 387.0 L756.0 385.5 L760.0 384.1 L764.0 382.6 L768.0 381.2 L772.0 379.8 L776.0 378.4 L780.0 377.0 L784.0 375.6 L788.0 374.2 L792.0 372.9 L796.0 371.6 L800.0 370.2 L804.0 368.9 L808.0 367.7 L812.0 366.4 L816.0 365.1 L820.0 363.9 L824.0 362.7 L828.0 361.5 L832.0 360.3 L836.0 359.1 L840.0 358.0" stroke="#8000ff" stroke-width="2.9"/>
<path d="M126.5 555.8 L128.0 555.9 L129.5 555.9 L131.0 556.0 L132.5 556.0 L134.0 556.1 L135.5 556.1 L137.0 556.0 L138.5 555.9 L140.0 555.8 L141.5 555.7 L143.0 555.6 L144.5 555.5 L146.0 555.7 L147.5 555.9 L149.0 556.1 L150.5 556.2 L152.0 556.3 L153.5 556.2 L155.0 556.1 L156.5 555.9 L158.0 555.8 L159.5 555.8 L161.0 555.9 L162.5 556.1 L164.0 556.2 L165.5 556.3 L167.0 556.3 L168.5 556.2 L170.0 556.1 L171.5 556.0 L173.0 556.0 L174.5 556.1 L176.0 556.2 L177.5 556.4 L179.0 556.4 L180.5 556.4 L182.0 556.3 L183.5 556.2 L185.0 556.0 L186.5 555.9 L188.0 555.9 L189.5 555.8 L191.0 555.8 L192.5 555.8 L194.0 555.8 L195.5 555.6 L197.0 555.5 L198.5 555.3 L200.0 555.2 L201.5 555.2 L203.0 555.3 L204.5 555.3 L206.0 555.4 L207.5 555.4 L209.0 555.4 L210.5 555.2 L212.0 555.1 L213.5 554.9 L215.0 554.8 L216.5 554.7 L218.0 554.7 L219.5 554.7 L221.0 554.7 L222.5 554.6 L224.0 554.5 L225.5 554.4 L227.0 554.3 L228.5 554.2 L230.0 554.0 L231.5 553.9 L233.0 553.8 L234.5 553.6 L236.0 553.4 L237.5 553.2 L239.0 553.0 L240.5 552.7 L242.0 552.5 L243.5 552.2 L245.0 551.8 L246.5 551.5 L248.0 551.2 L249.5 550.9 L251.0 550.6 L252.5 550.4 L254.0 550.2 L255.5 550.0 L257.0 549.8 L258.5 549.7 L260.0 549.5 L261.5 549.3 L263.0 549.1 L264.5 548.8 L266.0 548.5 L267.5 548.1 L269.0 547.8 L270.5 547.4 L272.0 547.1 L273.5 546.7 L275.0 546.3 L276.5 546.0 L278.0 545.5 L279.5 545.0 L281.0 544.5 L282.5 544.0 L284.0 543.4 L285.5 542.9 L287.0 542.4 L288.5 541.9 L290.0 541.5 L291.5 541.1 L293.0 540.7 L294.5 540.3 L296.0 540.0 L297.5 539.6 L299.0 539.2 L300.0 538.9 L304.0 537.6 L308.0 536.1 L312.0 534.7 L316.0 533.4 L320.0 532.0 L324.0 530.5 L328.0 529.1 L332.0 528.0 L336.0 527.0 L340.0 525.8 L344.0 524.3 L348.0 522.9 L352.0 521.7 L356.0 520.5 L360.0 519.3 L364.0 518.2 L368.0 516.9 L372.0 515.6 L376.0 514.3 L380.0 513.3 L384.0 512.2 L388.0 511.0 L392.0 509.8 L396.0 508.7 L400.0 507.5 L404.0 506.4 L408.0 505.2 L412.0 504.0 L416.0 502.7 L420.0 501.7 L424.0 500.7 L428.0 499.4 L432.0 498.1 L436.0 497.0 L440.0 495.9 L444.0 494.6 L448.0 493.3 L452.0 491.9 L456.0 490.6 L460.0 489.2 L464.0 487.9 L468.0 486.6 L472.0 485.3 L476.0 484.0 L480.0 482.8 L484.0 481.5 L488.0 480.1 L492.0 478.7 L496.0 477.3 L500.0 475.9 L504.0 474.7 L508.0 473.4 L512.0 471.9 L516.0 470.4 L520.0 468.9 L524.0 467.5 L528.0 466.1 L532.0 464.7 L536.0 463.1 L540.0 461.6 L544.0 460.2 L548.0 458.7 L552.0 457.3 L556.0 455.8 L560.0 454.3 L564.0 452.8 L568.0 451.3 L572.0 449.8 L576.0 448.3 L580.0 446.7 L584.0 445.2 L588.0 443.6 L592.0 442.1 L596.0 440.5 L600.0 439.0 L604.0 437.4 L608.0 435.9 L612.0 434.3 L616.0 432.7 L620.0 431.1 L624.0 429.5 L628.0 428.0 L632.0 426.4 L636.0 424.8 L640.0 423.2 L644.0 421.6 L648.0 420.0 L652.0 418.3 L656.0 416.7 L660.0 415.1 L664.0 413.5 L668.0 411.9 L672.0 410.3 L676.0 408.6 L680.0 407.0 L684.0 405.4 L688.0 403.8 L692.0 402.2 L696.0 400.5 L700.0 398.9 L704.0 397.3 L708.0 395.7 L712.0 394.1 L716.0 392.5 L720.0 390.9 L724.0 389.3 L728.0 387.8 L732.0 386.2 L736.0 384.6 L740.0 383.1 L744.0 381.5 L748.0 380.0 L752.0 378.4 L756.0 376.9 L760.0 375.4 L764.0 373.9 L768.0 372.4 L772.0 371.0 L776.0 369.5 L780.0 368.1 L784.0 366.7 L788.0 365.3 L792.0 363.9 L796.0 362.5 L800.0 361.1 L804.0 359.8 L808.0 358.5 L812.0 357.1 L816.0 355.9 L820.0 354.6 L824.0 353.3 L828.0 352.1 L832.0 350.9 L836.0 349.7 L840.0 348.6" stroke="#ff0080" stroke-width="2.9"/>
<path d="M126.5 522.1 L128.0 522.1 L129.5 522.0 L131.0 522.0 L132.5 522.0 L134.0 522.0 L135.5 522.0 L137.0 522.0 L138.5 522.1 L140.0 522.2 L141.5 522.3 L143.0 522.4 L144.5 522.4 L146.0 522.3 L147.5 522.2 L149.0 522.1 L150.5 522.0 L152.0 521.9 L153.5 522.0 L155.0 522.1 L156.5 522.2 L158.0 522.3 L159.5 522.3 L161.0 522.3 L162.5 522.4 L164.0 522.4 L165.5 522.4 L167.0 522.5 L168.5 522.5 L170.0 522.6 L171.5 522.7 L173.0 522.7 L174.5 522.8 L176.0 522.8 L177.5 522.7 L179.0 522.7 L180.5 522.7 L182.0 522.8 L183.5 522.8 L185.0 522.8 L186.5 522.9 L188.0 522.9 L189.5 522.9 L191.0 523.0 L192.5 523.0 L194.0 523.0 L195.5 523.1 L197.0 523.1 L198.5 523.1 L200.0 523.1 L201.5 523.1 L203.0 523.1 L204.5 523.0 L206.0 523.0 L207.5 522.9 L209.0 522.8 L210.5 522.7 L212.0 522.6 L213.5 522.5 L215.0 522.5 L216.5 522.5 L218.0 522.5 L219.5 522.6 L221.0 522.6 L222.5 522.5 L224.0 522.4 L225.5 522.3 L227.0 522.1 L228.5 522.1 L230.0 522.1 L231.5 522.1 L233.0 522.2 L234.5 522.2 L236.0 522.2 L237.5 522.1 L239.0 521.9 L240.5 521.7 L242.0 521.5 L243.5 521.3 L245.0 521.2 L246.5 521.0 L248.0 520.9 L249.5 520.7 L251.0 520.6 L252.5 520.5 L254.0 520.3 L255.5 520.2 L257.0 520.0 L258.5 519.7 L260.0 519.5 L261.5 519.3 L263.0 519.1 L264.5 518.9 L266.0 518.8 L267.5 518.7 L269.0 518.6 L270.5 518.4 L272.0 518.1 L273.5 517.8 L275.0 517.5 L276.5 517.2 L278.0 517.0 L279.5 516.8 L281.0 516.7 L282.5 516.5 L284.0 516.3 L285.5 516.0 L287.0 515.7 L288.5 515.2 L290.0 514.8 L291.5 514.4 L293.0 514.1 L294.5 513.7 L296.0 513.5 L297.5 513.2 L299.0 513.0 L300.0 512.9 L304.0 512.3 L308.0 511.5 L312.0 510.4 L316.0 509.3 L320.0 508.1 L324.0 506.5 L328.0 505.0 L332.0 503.9 L336.0 502.7 L340.0 501.3 L344.0 499.9 L348.0 498.6 L352.0 497.4 L356.0 496.1 L360.0 494.6 L364.0 493.1 L368.0 491.8 L372.0 490.3 L376.0 488.7 L380.0 487.2 L384.0 485.8 L388.0 484.6 L392.0 483.2 L396.0 481.6 L400.0 479.9 L404.0 478.4 L408.0 477.2 L412.0 475.8 L416.0 474.2 L420.0 472.7 L424.0 471.4 L428.0 470.3 L432.0 469.0 L436.0 467.6 L440.0 466.2 L444.0 465.1 L448.0 463.9 L452.0 462.8 L456.0 461.8 L460.0 460.8 L464.0 459.8 L468.0 458.7 L472.0 457.5 L476.0 456.6 L480.0 455.7 L484.0 454.5 L488.0 453.4 L492.0 452.4 L496.0 451.5 L500.0 450.6 L504.0 449.5 L508.0 448.4 L512.0 447.4 L516.0 446.4 L520.0 445.3 L524.0 444.2 L528.0 443.1 L532.0 442.0 L536.0 440.9 L540.0 439.7 L544.0 438.5 L548.0 437.3 L552.0 436.2 L556.0 435.0 L560.0 433.8 L564.0 432.6 L568.0 431.3 L572.0 430.0 L576.0 428.8 L580.0 427.5 L584.0 426.3 L588.0 425.0 L592.0 423.7 L596.0 422.4 L600.0 421.0 L604.0 419.7 L608.0 418.4 L612.0 417.0 L616.0 415.7 L620.0 414.3 L624.0 412.9 L628.0 411.6 L632.0 410.2 L636.0 408.8 L640.0 407.4 L644.0 406.0 L648.0 404.6 L652.0 403.2 L656.0 401.7 L660.0 400.3 L664.0 398.9 L668.0 397.5 L672.0 396.0 L676.0 394.6 L680.0 393.1 L684.0 391.7 L688.0 390.3 L692.0 388.8 L696.0 387.4 L700.0 385.9 L704.0 384.4 L708.0 383.0 L712.0 381.5 L716.0 380.1 L720.0 378.6 L724.0 377.2 L728.0 375.7 L732.0 374.2 L736.0 372.8 L740.0 371.3 L744.0 369.9 L748.0 368.4 L752.0 367.0 L756.0 365.6 L760.0 364.1 L764.0 362.7 L768.0 361.2 L772.0 359.8 L776.0 358.4 L780.0 357.0 L784.0 355.6 L788.0 354.2 L792.0 352.8 L796.0 351.5 L800.0 350.3 L804.0 349.4 L808.0 348.8 L812.0 348.3 L816.0 347.8 L820.0 347.1 L824.0 346.2 L828.0 345.0 L832.0 343.7 L836.0 342.5 L840.0 341.5" stroke="#808080" stroke-width="2.9"/>
</g>
<g>
<rect x="474.1" y="730.6" width="12.4" height="12.4" fill="#000"/>
<rect x="474.7" y="703.7" width="11.2" height="11.2" fill="#fff" stroke="#ff0000" stroke-width="1.3"/>
<circle cx="480.3" cy="681.1" r="7.15" fill="#00ff00"/>
<circle cx="480.8" cy="655.4" r="6.5" fill="#fff" stroke="#0000ff" stroke-width="1.3"/>
<polygon points="480.4,624.6 488.9,639 472.0,639" fill="#008080"/>
<polygon points="480.4,603.6 488.0,615.6 472.9,615.6" fill="#fff" stroke="#ff00ff" stroke-width="1.3"/>
<polygon points="480.8,582.1 489.7,591 480.8,599.9 471.9,591" fill="#808000"/>
<polygon points="480.8,562.2 489.0,570.4 480.8,578.6 472.6,570.4" fill="#fff" stroke="#800080" stroke-width="1.3"/>
<polygon points="471.7,549.8 485.7,542.2 485.7,557.8" fill="#800000"/>
<polygon points="472.9,535.0 485.2,528.4 485.2,542.0" fill="#fff" stroke="#008000" stroke-width="1.1"/>
<polygon points="481.00,514.10 487.84,518.05 487.84,525.95 481.00,529.90 474.16,525.95 474.16,518.05" fill="#0000a0"/>
<polygon points="444.80,521.60 450.95,525.15 450.95,532.25 444.80,535.80 438.65,532.25 438.65,525.15" fill="#fff" stroke="#cc4e00" stroke-width="1.6"/>
<polygon points="452.40,505.60 454.34,510.93 460.01,511.13 455.54,514.62 457.10,520.07 452.40,516.90 447.70,520.07 449.26,514.62 444.79,511.13 450.46,510.93" fill="#8000ff"/>
<polygon points="480.80,475.20 482.62,480.09 487.84,480.31 483.75,483.56 485.15,488.59 480.80,485.70 476.45,488.59 477.85,483.56 473.76,480.31 478.98,480.09" fill="#fff" stroke="#ff0080" stroke-width="1.2"/>
<polygon points="481.10,448.20 488.80,453.80 485.86,462.85 476.34,462.85 473.40,453.80" fill="#808080"/>
</g>
<g>
<line x1="250.7" y1="911.9" x2="250.4" y2="887.8" stroke="#000" stroke-width="1.25"/><polygon points="250.2,876.4 254.3,891.3 250.4,887.8 246.5,891.5" fill="#000"/>
<line x1="245.6" y1="871.2" x2="245.8" y2="853.1" stroke="#000" stroke-width="1.25"/><polygon points="246.0,841.7 249.7,856.8 245.8,853.1 241.9,856.6" fill="#000"/>
<line x1="236.5" y1="838.8" x2="236.7" y2="820.7" stroke="#000" stroke-width="1.25"/><polygon points="236.9,809.3 240.6,824.4 236.7,820.7 232.8,824.2" fill="#000"/>
<line x1="208.6" y1="819.0" x2="208.6" y2="800.3" stroke="#000" stroke-width="1.25"/><polygon points="208.6,788.9 212.5,803.9 208.6,800.3 204.7,803.9" fill="#000"/>
<line x1="177.3" y1="803.3" x2="177.3" y2="792.3" stroke="#000" stroke-width="1.25"/><polygon points="177.3,780.9 181.2,795.9 177.3,792.3 173.4,795.9" fill="#000"/>
<line x1="164.3" y1="781.9" x2="164.3" y2="778.0" stroke="#000" stroke-width="1.25"/><polygon points="164.3,766.6 168.2,781.6 164.3,778.0 160.4,781.6" fill="#000"/>
</g>
<g stroke="#000" stroke-width="2.5" fill="none" stroke-linecap="butt">
<path d="M835 299.3 H90.7 V958.5 H835" stroke-linejoin="miter"/>
<line x1="171.6" y1="958.5" x2="171.6" y2="951.8"/>
<line x1="171.6" y1="299.3" x2="171.6" y2="306.1"/>
<line x1="252.6" y1="958.5" x2="252.6" y2="946.2"/>
<line x1="252.6" y1="299.3" x2="252.6" y2="311.6"/>
<line x1="333.6" y1="958.5" x2="333.6" y2="951.8"/>
<line x1="333.6" y1="299.3" x2="333.6" y2="306.1"/>
<line x1="414.6" y1="958.5" x2="414.6" y2="946.2"/>
<line x1="414.6" y1="299.3" x2="414.6" y2="311.6"/>
<line x1="495.6" y1="958.5" x2="495.6" y2="951.8"/>
<line x1="495.6" y1="299.3" x2="495.6" y2="306.1"/>
<line x1="576.6" y1="958.5" x2="576.6" y2="946.2"/>
<line x1="576.6" y1="299.3" x2="576.6" y2="311.6"/>
<line x1="657.6" y1="958.5" x2="657.6" y2="951.8"/>
<line x1="657.6" y1="299.3" x2="657.6" y2="306.1"/>
<line x1="738.6" y1="958.5" x2="738.6" y2="946.2"/>
<line x1="738.6" y1="299.3" x2="738.6" y2="311.6"/>
<line x1="819.6" y1="958.5" x2="819.6" y2="951.8"/>
<line x1="819.6" y1="299.3" x2="819.6" y2="306.1"/>
<line x1="90.7" y1="885.3" x2="97.5" y2="885.3"/>
<line x1="90.7" y1="812.0" x2="103.0" y2="812.0"/>
<line x1="90.7" y1="738.8" x2="97.5" y2="738.8"/>
<line x1="90.7" y1="665.5" x2="103.0" y2="665.5"/>
<line x1="90.7" y1="592.3" x2="97.5" y2="592.3"/>
<line x1="90.7" y1="519.1" x2="103.0" y2="519.1"/>
<line x1="90.7" y1="445.8" x2="97.5" y2="445.8"/>
<line x1="90.7" y1="372.6" x2="103.0" y2="372.6"/>
</g>
<g font-family='"Liberation Sans", sans-serif' font-size="38" fill="#000">
<text x="90.1" y="1000.3" text-anchor="middle">0</text>
<text x="252.1" y="1000.3" text-anchor="middle">2</text>
<text x="414.1" y="1000.3" text-anchor="middle">4</text>
<text x="576.1" y="1000.3" text-anchor="middle">6</text>
<text x="738.1" y="1000.3" text-anchor="middle">8</text>
<text x="78.3" y="969.3" text-anchor="end">0</text>
<text x="78.3" y="822.8" text-anchor="end">2</text>
<text x="78.3" y="676.3" text-anchor="end">4</text>
<text x="78.3" y="529.9" text-anchor="end">6</text>
<text x="78.3" y="383.4" text-anchor="end">8</text>
</g>
<text x="462.8" y="1052.2" font-family='"Liberation Sans", sans-serif' font-size="45.2" fill="#000"><tspan font-style="italic">T</tspan> (K)</text>
<text transform="translate(47,732.2) rotate(-90)" font-family='"Liberation Sans", sans-serif' font-size="44" fill="#000"><tspan font-family='"Liberation Serif", serif'>ρ</tspan> <tspan dx="2.2">(</tspan><tspan font-family='"Liberation Serif", serif' dx="2">μ</tspan><tspan font-family='"Liberation Serif", serif' dx="1.5">Ω</tspan> <tspan dx="-2.5">c</tspan><tspan dx="-1">m</tspan><tspan dx="-1.9">)</tspan></text>
<text x="150.4" y="349.6" font-family='"Liberation Sans", sans-serif' font-size="45.7" fill="#000">CeZn</text>
<text x="261.2" y="367.4" font-family='"Liberation Sans", sans-serif' font-size="26" fill="#000" textLength="27.5" lengthAdjust="spacing">11</text>
<text x="155.4" y="393.3" font-family='"Liberation Sans", sans-serif' font-size="22.5" fill="#000"><tspan font-weight="bold">H</tspan>||[110]</text>
<text x="155.4" y="433.2" font-family='"Liberation Sans", sans-serif' font-size="22.5" fill="#000"><tspan font-weight="bold">I</tspan>||[001]</text>
<g>
<rect x="595.7" y="701.6" width="289.0" height="188.8" fill="#fff" stroke="#000" stroke-width="1"/>
<g stroke="#000" stroke-width="1">
<line x1="624.6" y1="890.4" x2="624.6" y2="888.2"/>
<line x1="624.6" y1="701.6" x2="624.6" y2="703.8"/>
<line x1="653.5" y1="890.4" x2="653.5" y2="886.4"/>
<line x1="653.5" y1="701.6" x2="653.5" y2="705.6"/>
<line x1="682.4" y1="890.4" x2="682.4" y2="888.2"/>
<line x1="682.4" y1="701.6" x2="682.4" y2="703.8"/>
<line x1="711.3" y1="890.4" x2="711.3" y2="886.4"/>
<line x1="711.3" y1="701.6" x2="711.3" y2="705.6"/>
<line x1="740.2" y1="890.4" x2="740.2" y2="888.2"/>
<line x1="740.2" y1="701.6" x2="740.2" y2="703.8"/>
<line x1="769.1" y1="890.4" x2="769.1" y2="886.4"/>
<line x1="769.1" y1="701.6" x2="769.1" y2="705.6"/>
<line x1="798.0" y1="890.4" x2="798.0" y2="888.2"/>
<line x1="798.0" y1="701.6" x2="798.0" y2="703.8"/>
<line x1="826.9" y1="890.4" x2="826.9" y2="886.4"/>
<line x1="826.9" y1="701.6" x2="826.9" y2="705.6"/>
<line x1="855.8" y1="890.4" x2="855.8" y2="888.2"/>
<line x1="855.8" y1="701.6" x2="855.8" y2="703.8"/>
<line x1="595.7" y1="852.6" x2="597.9" y2="852.6"/>
<line x1="595.7" y1="814.9" x2="599.7" y2="814.9"/>
<line x1="595.7" y1="777.1" x2="597.9" y2="777.1"/>
<line x1="595.7" y1="739.4" x2="599.7" y2="739.4"/>
</g>
<path d="M607.9 823.9 L608.9 824.0 L609.9 824.1 L610.9 824.2 L611.9 824.2 L612.9 824.3 L613.9 824.4 L614.9 824.5 L615.9 824.5 L616.9 824.6 L617.9 824.6 L618.9 824.7 L619.9 824.7 L620.9 824.7 L621.9 824.8 L622.9 824.8 L623.9 824.8 L624.9 824.8 L625.9 824.8 L626.9 824.8 L627.9 824.8 L628.9 824.8 L629.9 824.8 L630.9 824.7 L631.9 824.7 L632.9 824.7 L633.9 824.7 L634.9 824.6 L635.9 824.6 L636.9 824.5 L637.9 824.5 L638.9 824.5 L639.9 824.4 L640.9 824.4 L641.9 824.3 L642.9 824.3 L643.9 824.2 L644.9 824.2 L645.9 824.1 L646.9 823.9 L647.9 823.8 L648.9 823.6 L649.9 823.5 L650.9 823.3 L651.9 823.0 L652.9 822.8 L653.9 822.6 L654.9 822.3 L655.9 822.0 L656.9 821.8 L657.9 821.5 L658.9 821.2 L659.9 820.9 L660.9 820.6 L661.9 820.3 L662.9 819.9 L663.9 819.5 L664.9 819.1 L665.9 818.6 L666.9 818.2 L667.9 817.7 L668.9 817.2 L669.9 816.7 L670.9 816.2 L671.9 815.8 L672.9 815.3 L673.9 814.8 L674.9 814.3 L675.9 813.9 L676.9 813.4 L677.9 812.8 L678.9 812.3 L679.9 811.8 L680.9 811.3 L681.9 810.8 L682.9 810.3 L683.9 809.8 L684.9 809.3 L685.9 808.8 L686.9 808.2 L687.9 807.7 L688.9 807.2 L689.9 806.7 L690.9 806.2 L691.9 805.7 L692.9 805.3 L693.9 804.8 L694.9 804.4 L695.9 803.9 L696.9 803.5 L697.9 803.0 L698.9 802.6 L699.9 802.2 L700.9 801.7 L701.9 801.3 L702.9 800.9 L703.9 800.5 L704.9 800.0 L705.9 799.6 L706.9 799.2 L707.9 798.8 L708.9 798.4 L709.9 798.0 L710.9 797.6 L711.9 797.2 L712.9 796.8 L713.9 796.4 L714.9 796.0 L715.9 795.7 L716.9 795.3 L717.9 794.9 L718.9 794.5 L719.9 794.1 L720.9 793.7 L721.9 793.4 L722.9 793.0 L723.9 792.6 L724.9 792.3 L725.9 791.9 L726.9 791.5 L727.9 791.2 L728.9 790.8 L729.9 790.5 L730.9 790.1 L731.9 789.7 L732.9 789.4 L733.9 789.1 L734.9 788.7 L735.9 788.4 L736.9 788.1 L737.9 787.7 L738.9 787.4 L739.9 787.1" fill="none" stroke="#808080" stroke-width="5.5" stroke-linecap="round" stroke-linejoin="round"/>
<circle cx="746.5" cy="784.7" r="2.75" fill="#808080"/>
<circle cx="752.3" cy="782.1" r="2.75" fill="#808080"/>
<circle cx="758.1" cy="779.2" r="2.75" fill="#808080"/>
<circle cx="763.8" cy="776.4" r="2.75" fill="#808080"/>
<circle cx="769.6" cy="773.8" r="2.75" fill="#808080"/>
<circle cx="775.4" cy="771.2" r="2.75" fill="#808080"/>
<circle cx="781.2" cy="768.5" r="2.75" fill="#808080"/>
<circle cx="787.0" cy="765.7" r="2.75" fill="#808080"/>
<circle cx="792.7" cy="762.8" r="2.75" fill="#808080"/>
<circle cx="798.5" cy="759.6" r="2.75" fill="#808080"/>
<circle cx="804.3" cy="756.4" r="2.75" fill="#808080"/>
<circle cx="810.1" cy="753.4" r="2.75" fill="#808080"/>
<circle cx="815.9" cy="750.6" r="2.75" fill="#808080"/>
<circle cx="821.6" cy="748.0" r="2.75" fill="#808080"/>
<circle cx="827.4" cy="745.4" r="2.75" fill="#808080"/>
<circle cx="833.2" cy="742.9" r="2.75" fill="#808080"/>
<path d="M607.9 886.9 L608.9 886.9 L609.9 886.8 L610.9 886.7 L611.9 886.5 L612.9 886.4 L613.9 886.2 L614.9 886.0 L615.9 885.8 L616.9 885.6 L617.9 885.3 L618.9 885.1 L619.9 884.8 L620.9 884.4 L621.9 884.0 L622.9 883.6 L623.9 883.2 L624.9 882.7 L625.9 882.2 L626.9 881.6 L627.9 881.0 L628.9 880.3 L629.9 879.5 L630.9 878.6 L631.9 877.6 L632.9 876.6 L633.9 875.6 L634.9 874.6 L635.9 873.5 L636.9 872.4 L637.9 871.3 L638.9 870.1 L639.9 868.8 L640.9 867.4 L641.9 865.9 L642.9 864.3 L643.9 862.5 L644.9 860.6 L645.9 858.5 L646.9 856.2 L647.9 853.9 L648.9 851.5 L649.9 848.8 L650.9 846.0 L651.9 843.1 L652.9 839.7 L653.9 837.2 L654.9 836.1 L655.9 835.3 L656.9 834.6 L657.9 833.9 L658.9 833.3 L659.9 832.7 L660.9 832.2 L661.9 831.6 L662.9 831.0 L663.9 830.3 L664.9 829.6 L665.9 828.9 L666.9 828.1 L667.9 827.4 L668.9 826.6 L669.9 825.8 L670.9 825.0 L671.9 824.2 L672.9 823.5 L673.9 822.7 L674.9 821.9 L675.9 821.1 L676.9 820.4 L677.9 819.6 L678.9 818.8 L679.9 818.0 L680.9 817.3 L681.9 816.4 L682.9 815.6 L683.9 814.8 L684.9 814.0 L685.9 813.1 L686.9 812.2 L687.9 811.4 L688.9 810.5 L689.9 809.6 L690.9 808.8 L691.9 807.9 L692.9 807.1 L693.9 806.3 L694.9 805.5 L695.9 804.7 L696.9 803.9 L697.9 803.1 L698.9 802.3 L699.9 801.5 L700.9 800.7 L701.9 799.9 L702.9 799.1 L703.9 798.3 L704.9 797.5 L705.9 796.6 L706.9 795.8 L707.9 795.0 L708.9 794.2 L709.9 793.4 L710.9 792.6 L711.9 791.8 L712.9 791.1 L713.9 790.3 L714.9 789.5 L715.9 788.7 L716.9 788.0 L717.9 787.2 L718.9 786.5 L719.9 785.7 L720.9 785.0 L721.9 784.3 L722.9 783.5 L723.9 782.8 L724.9 782.1 L725.9 781.4 L726.9 780.7 L727.9 780.0 L728.9 779.4 L729.9 778.7 L730.9 778.0 L731.9 777.3 L732.9 776.7 L733.9 776.1 L734.9 775.5 L735.9 774.8 L736.9 774.2 L737.9 773.6 L738.9 772.9 L739.9 772.2" fill="none" stroke="#000" stroke-width="6.2" stroke-linecap="square" stroke-linejoin="miter"/>
<rect x="743.6" y="764.2" width="5.8" height="5.8" fill="#000"/>
<rect x="749.4" y="760.2" width="5.8" height="5.8" fill="#000"/>
<rect x="755.2" y="756.5" width="5.8" height="5.8" fill="#000"/>
<rect x="760.9" y="752.9" width="5.8" height="5.8" fill="#000"/>
<rect x="766.7" y="749.3" width="5.8" height="5.8" fill="#000"/>
<rect x="772.5" y="745.9" width="5.8" height="5.8" fill="#000"/>
<rect x="778.3" y="742.8" width="5.8" height="5.8" fill="#000"/>
<rect x="784.1" y="739.8" width="5.8" height="5.8" fill="#000"/>
<rect x="789.8" y="737.1" width="5.8" height="5.8" fill="#000"/>
<rect x="795.6" y="734.5" width="5.8" height="5.8" fill="#000"/>
<rect x="801.4" y="732.2" width="5.8" height="5.8" fill="#000"/>
<rect x="807.2" y="730.0" width="5.8" height="5.8" fill="#000"/>
<rect x="813.0" y="728.1" width="5.8" height="5.8" fill="#000"/>
<rect x="818.7" y="726.3" width="5.8" height="5.8" fill="#000"/>
<rect x="824.5" y="724.6" width="5.8" height="5.8" fill="#000"/>
<rect x="830.3" y="723.0" width="5.8" height="5.8" fill="#000"/>
<line x1="711.0" y1="743.8" x2="735.4" y2="762.6" stroke="#000" stroke-width="1.3"/><polygon points="743.5,768.8 729.6,764.8 735.4,762.6 736.1,756.4" fill="#000"/>
<line x1="808.1" y1="794.5" x2="789.0" y2="777.2" stroke="#000" stroke-width="1.3"/><polygon points="781.4,770.4 794.9,775.4 789.0,777.2 787.8,783.3" fill="#000"/>
<g font-family='"Liberation Sans", sans-serif' font-size="22.5" fill="#000">
<text x="595.7" y="912.3" text-anchor="middle">0</text>
<text x="653.5" y="912.3" text-anchor="middle">2</text>
<text x="711.3" y="912.3" text-anchor="middle">4</text>
<text x="769.1" y="912.3" text-anchor="middle">6</text>
<text x="826.9" y="912.3" text-anchor="middle">8</text>
<text x="592.6" y="897.6" text-anchor="end">0</text>
<text x="592.6" y="822.1" text-anchor="end">2</text>
<text x="592.6" y="746.6" text-anchor="end">4</text>
<text x="649.2" y="736.2">0 kOe</text>
<text x="768.6" y="812.9">140 kOe</text>
<text x="728.2" y="941.0"><tspan font-style="italic">T</tspan> (K)</text>
<text transform="translate(568.3,852) rotate(-90)"><tspan font-family='"Liberation Serif", serif'>ρ</tspan> (<tspan font-family='"Liberation Serif", serif'>μΩ</tspan> cm)</text>
</g>
</g>
</svg>
</body>
</html>
